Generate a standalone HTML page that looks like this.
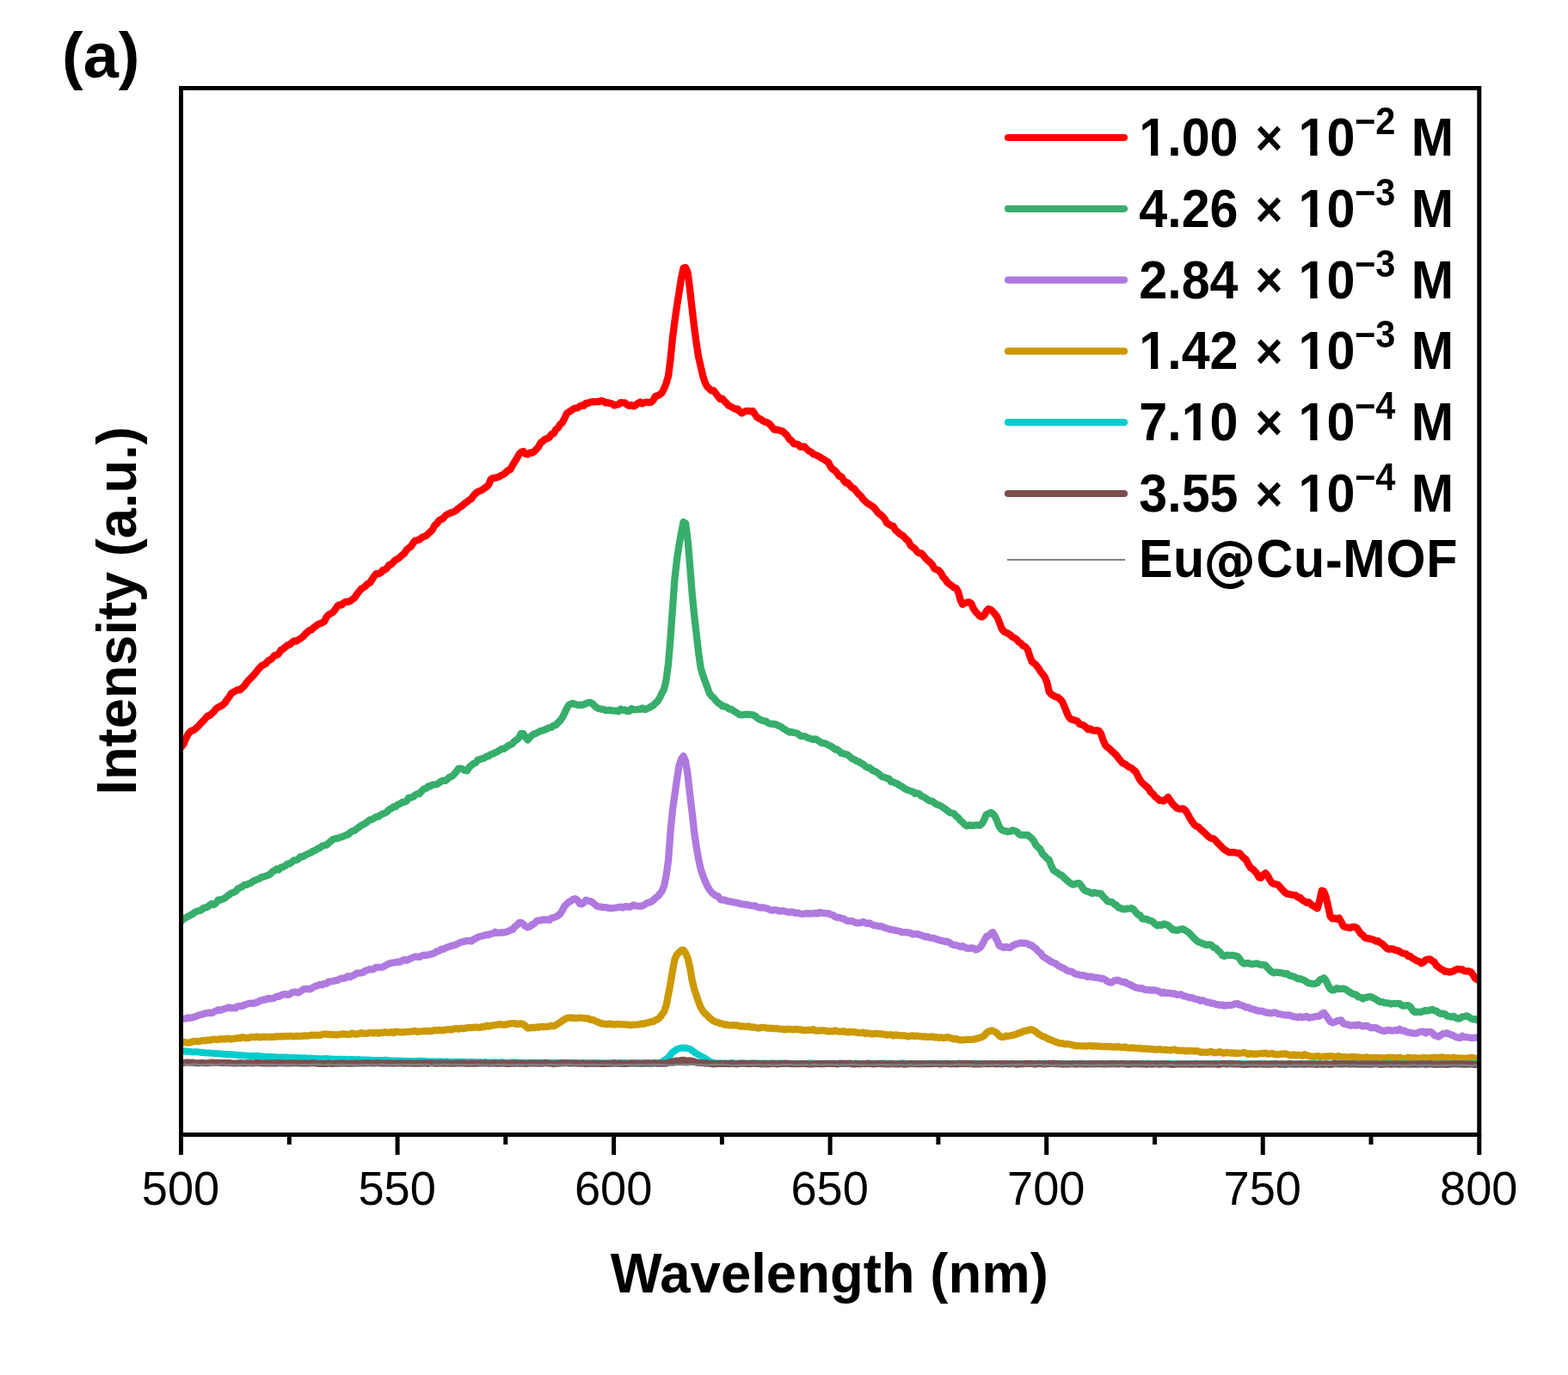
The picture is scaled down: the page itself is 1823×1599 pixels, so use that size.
<!DOCTYPE html>
<html><head><meta charset="utf-8"><title>Emission spectra</title>
<style>html,body{margin:0;padding:0;background:#fff;}svg{display:block;}</style>
</head><body>
<svg width="1823" height="1599" viewBox="0 0 1823 1599">
<rect width="100%" height="100%" fill="#fff"/>
<defs><clipPath id="pc"><rect x="210.5" y="102.5" width="1509.3" height="1217.0"/></clipPath></defs>
<g clip-path="url(#pc)" fill="none" stroke-linejoin="round" stroke-linecap="butt">
<path d="M208.5,868.8 L211.0,868.3 L213.5,865.2 L216.0,859.2 L218.6,853.9 L221.1,850.8 L223.6,849.6 L226.1,848.6 L228.6,846.2 L231.1,844.0 L233.7,840.9 L236.2,838.4 L238.7,835.6 L241.2,832.6 L243.7,832.2 L246.2,829.8 L248.7,827.5 L251.3,824.1 L253.8,822.5 L256.3,821.4 L258.8,819.7 L261.3,817.6 L263.8,813.9 L266.4,810.4 L268.9,806.4 L271.4,804.9 L273.9,803.5 L276.4,802.1 L278.9,802.4 L281.4,800.0 L284.0,797.8 L286.5,793.9 L289.0,791.1 L291.5,788.7 L294.0,785.9 L296.5,783.2 L299.1,779.9 L301.6,776.9 L304.1,774.4 L306.6,772.9 L309.1,771.7 L311.6,768.4 L314.2,767.2 L316.7,765.2 L319.2,762.2 L321.7,761.7 L324.2,760.0 L326.7,755.8 L329.2,754.7 L331.8,752.5 L334.3,750.3 L336.8,749.5 L339.3,747.4 L341.8,745.5 L344.3,745.7 L346.9,744.0 L349.4,742.5 L351.9,740.7 L354.4,737.9 L356.9,735.6 L359.4,733.1 L361.9,732.5 L364.5,730.0 L367.0,728.3 L369.5,726.3 L372.0,725.2 L374.5,724.3 L377.0,722.8 L379.6,717.5 L382.1,714.9 L384.6,713.5 L387.1,712.0 L389.6,708.9 L392.1,705.0 L394.6,703.3 L397.2,703.5 L399.7,701.1 L402.2,699.7 L404.7,700.0 L407.2,698.9 L409.7,697.0 L412.3,695.1 L414.8,691.2 L417.3,687.9 L419.8,685.1 L422.3,683.5 L424.8,681.7 L427.3,678.8 L429.9,677.9 L432.4,674.1 L434.9,670.3 L437.4,667.1 L439.9,667.2 L442.4,666.4 L445.0,663.1 L447.5,662.6 L450.0,660.6 L452.5,656.8 L455.0,656.2 L457.5,653.4 L460.0,651.2 L462.6,649.8 L465.1,647.9 L467.6,645.4 L470.1,643.4 L472.6,639.5 L475.1,637.4 L477.7,635.6 L480.2,631.8 L482.7,628.7 L485.2,628.3 L487.7,627.5 L490.2,625.3 L492.8,623.9 L495.3,623.1 L497.8,620.8 L500.3,618.5 L502.8,616.0 L505.3,611.0 L507.8,609.1 L510.4,605.3 L512.9,604.1 L515.4,602.6 L517.9,599.5 L520.4,598.0 L522.9,596.8 L525.5,596.0 L528.0,595.0 L530.5,593.5 L533.0,591.1 L535.5,589.4 L538.0,587.5 L540.5,585.2 L543.1,583.6 L545.6,581.6 L548.1,580.0 L550.6,576.3 L553.1,573.6 L555.6,571.8 L558.2,570.7 L560.7,569.7 L563.2,567.5 L565.7,566.3 L568.2,563.4 L570.7,557.2 L573.2,555.9 L575.8,555.8 L578.3,555.1 L580.8,554.1 L583.3,552.5 L585.8,551.5 L588.3,549.1 L590.9,546.8 L593.4,545.8 L595.9,541.0 L598.4,537.1 L600.9,532.9 L603.4,528.4 L605.9,525.8 L608.5,525.0 L611.0,527.9 L613.5,528.4 L616.0,526.5 L618.5,526.6 L621.0,525.1 L623.6,522.4 L626.1,519.7 L628.6,514.9 L631.1,513.1 L633.6,510.9 L636.1,510.0 L638.7,508.6 L641.2,504.8 L643.7,504.2 L646.2,499.5 L648.7,497.6 L651.2,493.5 L653.7,491.5 L656.3,486.6 L658.8,481.0 L661.3,479.1 L663.8,477.7 L666.3,475.8 L668.8,474.6 L671.4,474.4 L673.9,472.7 L676.4,471.3 L678.9,471.8 L681.4,468.6 L683.9,469.0 L686.4,467.5 L689.0,467.2 L691.5,467.3 L694.0,467.0 L696.5,467.2 L699.0,465.9 L701.5,466.7 L704.1,468.5 L706.6,468.2 L709.1,468.9 L711.6,469.5 L714.1,471.4 L716.6,470.7 L719.1,470.2 L721.7,468.1 L724.2,468.4 L726.7,468.4 L729.2,470.8 L731.7,471.8 L734.2,471.0 L736.8,472.5 L739.3,471.1 L741.8,468.9 L744.3,467.5 L746.8,469.3 L749.3,468.0 L751.8,467.7 L754.4,468.2 L756.9,467.7 L759.4,465.4 L761.9,460.9 L764.4,460.3 L766.9,459.0 L769.5,456.8 L772.0,452.3 L774.5,445.9 L777.0,437.4 L779.5,418.1 L782.0,392.7 L784.5,373.4 L787.1,355.2 L789.6,339.6 L792.1,323.1 L794.6,311.7 L797.1,311.1 L799.6,317.1 L802.2,337.4 L804.7,359.7 L807.2,380.8 L809.7,399.7 L812.2,415.3 L814.7,426.4 L817.3,437.5 L819.8,445.2 L822.3,449.8 L824.8,452.0 L827.3,454.4 L829.8,454.1 L832.3,457.6 L834.9,461.1 L837.4,464.1 L839.9,463.7 L842.4,466.6 L844.9,469.2 L847.4,471.8 L850.0,473.0 L852.5,474.5 L855.0,475.8 L857.5,475.5 L860.0,478.5 L862.5,480.5 L865.0,479.1 L867.6,477.8 L870.1,477.9 L872.6,478.4 L875.1,478.0 L877.6,481.5 L880.1,485.2 L882.7,486.8 L885.2,488.0 L887.7,489.9 L890.2,490.8 L892.7,491.6 L895.2,493.6 L897.7,496.8 L900.3,499.5 L902.8,499.6 L905.3,500.2 L907.8,501.0 L910.3,501.8 L912.8,504.2 L915.4,506.8 L917.9,511.0 L920.4,512.6 L922.9,516.1 L925.4,516.3 L927.9,516.9 L930.4,519.5 L933.0,519.4 L935.5,519.5 L938.0,522.2 L940.5,524.5 L943.0,525.7 L945.5,527.9 L948.1,529.0 L950.6,530.0 L953.1,531.2 L955.6,533.1 L958.1,534.4 L960.6,536.1 L963.1,537.6 L965.7,542.8 L968.2,545.7 L970.7,547.2 L973.2,550.2 L975.7,553.8 L978.2,554.1 L980.8,558.5 L983.3,561.5 L985.8,561.4 L988.3,564.7 L990.8,567.3 L993.3,568.4 L995.9,571.8 L998.4,574.8 L1000.9,576.8 L1003.4,580.3 L1005.9,583.0 L1008.4,585.3 L1010.9,586.6 L1013.5,588.3 L1016.0,590.1 L1018.5,593.2 L1021.0,596.5 L1023.5,598.4 L1026.0,600.3 L1028.6,603.5 L1031.1,608.3 L1033.6,609.7 L1036.1,611.3 L1038.6,611.9 L1041.1,616.4 L1043.6,618.6 L1046.2,621.1 L1048.7,622.2 L1051.2,624.4 L1053.7,627.3 L1056.2,629.3 L1058.7,634.4 L1061.3,636.3 L1063.8,638.1 L1066.3,641.6 L1068.8,643.3 L1071.3,643.3 L1073.8,646.4 L1076.3,649.5 L1078.9,651.9 L1081.4,654.0 L1083.9,656.7 L1086.4,661.2 L1088.9,662.4 L1091.4,663.3 L1094.0,666.3 L1096.5,671.1 L1099.0,673.7 L1101.5,677.3 L1104.0,679.3 L1106.5,680.9 L1109.0,683.3 L1111.6,684.0 L1114.1,688.3 L1116.6,697.8 L1119.1,702.8 L1121.6,701.3 L1124.1,700.7 L1126.7,700.3 L1129.2,701.6 L1131.7,707.7 L1134.2,711.3 L1136.7,713.9 L1139.2,716.8 L1141.8,717.4 L1144.3,715.5 L1146.8,710.8 L1149.3,708.3 L1151.8,709.0 L1154.3,711.2 L1156.8,714.0 L1159.4,717.5 L1161.9,723.6 L1164.4,730.7 L1166.9,734.2 L1169.4,735.5 L1171.9,736.6 L1174.5,738.2 L1177.0,740.7 L1179.5,741.8 L1182.0,743.6 L1184.5,746.7 L1187.0,748.1 L1189.5,751.0 L1192.1,752.0 L1194.6,755.2 L1197.1,762.5 L1199.6,769.2 L1202.1,771.2 L1204.6,773.4 L1207.2,776.8 L1209.7,780.8 L1212.2,783.9 L1214.7,787.4 L1217.2,793.4 L1219.7,804.3 L1222.2,807.4 L1224.8,809.0 L1227.3,810.3 L1229.8,810.9 L1232.3,813.0 L1234.8,815.6 L1237.3,821.0 L1239.9,827.7 L1242.4,833.4 L1244.9,836.3 L1247.4,837.0 L1249.9,837.8 L1252.4,838.5 L1254.9,841.9 L1257.5,842.7 L1260.0,843.6 L1262.5,845.7 L1265.0,848.2 L1267.5,847.5 L1270.0,849.2 L1272.6,849.7 L1275.1,849.4 L1277.6,849.8 L1280.1,853.5 L1282.6,860.8 L1285.1,866.5 L1287.6,869.0 L1290.2,870.9 L1292.7,873.5 L1295.2,875.6 L1297.7,878.2 L1300.2,881.3 L1302.7,884.5 L1305.3,887.4 L1307.8,888.3 L1310.3,890.3 L1312.8,892.1 L1315.3,892.9 L1317.8,895.4 L1320.4,897.4 L1322.9,902.3 L1325.4,907.0 L1327.9,910.2 L1330.4,912.5 L1332.9,914.7 L1335.4,916.8 L1338.0,921.3 L1340.5,923.1 L1343.0,926.5 L1345.5,928.3 L1348.0,930.8 L1350.5,930.8 L1353.1,931.5 L1355.6,929.3 L1358.1,927.0 L1360.6,930.7 L1363.1,934.7 L1365.6,937.1 L1368.1,939.7 L1370.7,940.5 L1373.2,940.7 L1375.7,940.4 L1378.2,942.4 L1380.7,946.2 L1383.2,951.1 L1385.8,955.2 L1388.3,958.6 L1390.8,960.7 L1393.3,961.6 L1395.8,964.5 L1398.3,966.4 L1400.8,968.8 L1403.4,971.4 L1405.9,973.4 L1408.4,975.0 L1410.9,975.3 L1413.4,977.6 L1415.9,980.6 L1418.5,983.1 L1421.0,985.6 L1423.5,988.0 L1426.0,989.4 L1428.5,991.2 L1431.0,991.3 L1433.5,991.2 L1436.1,991.4 L1438.6,992.2 L1441.1,992.1 L1443.6,995.3 L1446.1,997.8 L1448.6,999.5 L1451.2,1004.8 L1453.7,1008.8 L1456.2,1010.6 L1458.7,1013.0 L1461.2,1015.7 L1463.7,1020.4 L1466.2,1020.8 L1468.8,1017.3 L1471.3,1015.3 L1473.8,1018.3 L1476.3,1023.0 L1478.8,1026.8 L1481.3,1027.9 L1483.9,1028.3 L1486.4,1029.5 L1488.9,1032.4 L1491.4,1035.2 L1493.9,1037.8 L1496.4,1039.5 L1499.0,1039.8 L1501.5,1040.5 L1504.0,1040.9 L1506.5,1041.2 L1509.0,1043.5 L1511.5,1043.7 L1514.0,1046.7 L1516.6,1048.0 L1519.1,1049.7 L1521.6,1049.1 L1524.1,1051.7 L1526.6,1053.4 L1529.1,1054.8 L1531.7,1056.3 L1534.2,1047.5 L1536.7,1035.7 L1539.2,1036.7 L1541.7,1043.4 L1544.2,1054.4 L1546.7,1066.0 L1549.3,1068.4 L1551.8,1067.6 L1554.3,1068.9 L1556.8,1067.6 L1559.3,1071.8 L1561.8,1077.1 L1564.4,1078.1 L1566.9,1078.5 L1569.4,1079.1 L1571.9,1078.2 L1574.4,1077.8 L1576.9,1078.7 L1579.4,1081.7 L1582.0,1085.7 L1584.5,1087.4 L1587.0,1090.6 L1589.5,1091.4 L1592.0,1091.3 L1594.5,1092.3 L1597.1,1093.0 L1599.6,1094.6 L1602.1,1094.2 L1604.6,1096.3 L1607.1,1097.6 L1609.6,1100.1 L1612.1,1102.8 L1614.7,1103.8 L1617.2,1103.4 L1619.7,1103.7 L1622.2,1105.1 L1624.7,1105.2 L1627.2,1106.5 L1629.8,1108.2 L1632.3,1108.7 L1634.8,1109.2 L1637.3,1112.0 L1639.8,1112.2 L1642.3,1114.5 L1644.9,1115.7 L1647.4,1117.5 L1649.9,1117.9 L1652.4,1120.3 L1654.9,1119.1 L1657.4,1116.5 L1659.9,1115.6 L1662.5,1115.5 L1665.0,1117.2 L1667.5,1118.8 L1670.0,1122.7 L1672.5,1124.8 L1675.0,1126.7 L1677.6,1128.0 L1680.1,1129.9 L1682.6,1129.6 L1685.1,1130.5 L1687.6,1130.1 L1690.1,1129.1 L1692.6,1127.6 L1695.2,1126.8 L1697.7,1127.4 L1700.2,1127.5 L1702.7,1129.3 L1705.2,1129.3 L1707.7,1129.5 L1710.3,1130.4 L1712.8,1134.0 L1715.3,1138.0 L1717.8,1139.4 L1720.3,1140.3" stroke="#FF0000" stroke-width="8.3"/>
<path d="M208.5,1071.6 L211.0,1071.0 L213.5,1068.4 L216.0,1067.4 L218.6,1065.7 L221.1,1064.2 L223.6,1063.3 L226.1,1061.3 L228.6,1059.8 L231.1,1059.3 L233.7,1058.5 L236.2,1056.3 L238.7,1055.5 L241.2,1054.7 L243.7,1052.6 L246.2,1051.0 L248.7,1052.1 L251.3,1050.0 L253.8,1046.4 L256.3,1046.5 L258.8,1045.6 L261.3,1044.5 L263.8,1042.7 L266.4,1040.5 L268.9,1038.6 L271.4,1037.9 L273.9,1036.6 L276.4,1033.7 L278.9,1032.4 L281.4,1031.4 L284.0,1029.1 L286.5,1028.9 L289.0,1027.7 L291.5,1026.9 L294.0,1024.9 L296.5,1023.7 L299.1,1022.8 L301.6,1021.7 L304.1,1020.1 L306.6,1019.4 L309.1,1018.7 L311.6,1017.8 L314.2,1016.5 L316.7,1013.7 L319.2,1012.3 L321.7,1010.5 L324.2,1011.6 L326.7,1008.8 L329.2,1008.1 L331.8,1006.8 L334.3,1004.7 L336.8,1004.4 L339.3,1002.5 L341.8,1000.3 L344.3,1000.4 L346.9,999.1 L349.4,996.1 L351.9,996.4 L354.4,994.7 L356.9,993.5 L359.4,992.4 L361.9,991.4 L364.5,989.4 L367.0,988.7 L369.5,986.8 L372.0,986.0 L374.5,983.8 L377.0,983.2 L379.6,982.7 L382.1,980.2 L384.6,978.2 L387.1,976.2 L389.6,975.3 L392.1,974.9 L394.6,974.3 L397.2,973.2 L399.7,972.4 L402.2,971.1 L404.7,970.5 L407.2,968.0 L409.7,966.6 L412.3,965.9 L414.8,963.8 L417.3,961.9 L419.8,960.1 L422.3,958.7 L424.8,957.5 L427.3,955.5 L429.9,953.4 L432.4,953.1 L434.9,951.5 L437.4,949.9 L439.9,949.6 L442.4,947.7 L445.0,946.4 L447.5,945.6 L450.0,944.0 L452.5,941.2 L455.0,940.1 L457.5,938.2 L460.0,938.3 L462.6,935.5 L465.1,935.0 L467.6,932.8 L470.1,932.8 L472.6,931.6 L475.1,927.6 L477.7,927.6 L480.2,926.7 L482.7,924.6 L485.2,923.2 L487.7,923.1 L490.2,919.9 L492.8,917.5 L495.3,917.0 L497.8,914.3 L500.3,914.6 L502.8,912.6 L505.3,912.4 L507.8,912.2 L510.4,910.5 L512.9,908.6 L515.4,907.7 L517.9,908.0 L520.4,905.8 L522.9,903.4 L525.5,902.7 L528.0,900.4 L530.5,897.5 L533.0,893.8 L535.5,893.7 L538.0,894.4 L540.5,896.0 L543.1,896.4 L545.6,892.2 L548.1,890.0 L550.6,887.9 L553.1,887.1 L555.6,883.7 L558.2,883.0 L560.7,882.3 L563.2,881.5 L565.7,879.7 L568.2,879.3 L570.7,877.2 L573.2,876.6 L575.8,875.1 L578.3,874.2 L580.8,872.3 L583.3,870.9 L585.8,871.1 L588.3,869.1 L590.9,867.2 L593.4,866.2 L595.9,864.7 L598.4,861.7 L600.9,860.2 L603.4,857.7 L605.9,852.9 L608.5,853.1 L611.0,857.4 L613.5,860.5 L616.0,857.8 L618.5,855.0 L621.0,853.4 L623.6,852.7 L626.1,851.3 L628.6,850.1 L631.1,849.4 L633.6,848.5 L636.1,847.4 L638.7,846.2 L641.2,845.9 L643.7,843.7 L646.2,843.2 L648.7,840.3 L651.2,838.2 L653.7,834.6 L656.3,829.5 L658.8,824.1 L661.3,819.7 L663.8,818.6 L666.3,817.9 L668.8,819.1 L671.4,819.8 L673.9,819.7 L676.4,820.0 L678.9,819.3 L681.4,818.0 L683.9,817.1 L686.4,817.0 L689.0,818.4 L691.5,821.1 L694.0,823.1 L696.5,824.1 L699.0,824.8 L701.5,824.8 L704.1,826.1 L706.6,826.1 L709.1,825.7 L711.6,826.4 L714.1,826.6 L716.6,826.5 L719.1,827.2 L721.7,824.6 L724.2,825.9 L726.7,825.3 L729.2,827.2 L731.7,827.1 L734.2,824.0 L736.8,825.4 L739.3,825.3 L741.8,824.8 L744.3,824.8 L746.8,823.4 L749.3,825.2 L751.8,824.4 L754.4,823.1 L756.9,821.6 L759.4,820.4 L761.9,817.7 L764.4,815.7 L766.9,811.6 L769.5,806.2 L772.0,801.5 L774.5,791.0 L777.0,772.2 L779.5,742.4 L782.0,707.3 L784.5,672.7 L787.1,649.6 L789.6,633.4 L792.1,619.5 L794.6,607.0 L797.1,608.5 L799.6,627.9 L802.2,658.3 L804.7,690.5 L807.2,715.8 L809.7,737.5 L812.2,759.4 L814.7,776.7 L817.3,785.4 L819.8,792.5 L822.3,799.3 L824.8,806.2 L827.3,809.6 L829.8,811.6 L832.3,814.7 L834.9,817.4 L837.4,818.8 L839.9,821.3 L842.4,821.4 L844.9,822.3 L847.4,824.5 L850.0,824.6 L852.5,826.5 L855.0,828.0 L857.5,829.5 L860.0,831.2 L862.5,831.4 L865.0,831.0 L867.6,830.7 L870.1,831.0 L872.6,831.0 L875.1,831.3 L877.6,832.3 L880.1,834.6 L882.7,836.4 L885.2,837.5 L887.7,838.3 L890.2,838.6 L892.7,840.6 L895.2,841.6 L897.7,842.0 L900.3,842.0 L902.8,842.8 L905.3,844.1 L907.8,844.9 L910.3,847.0 L912.8,848.5 L915.4,850.0 L917.9,851.6 L920.4,851.2 L922.9,852.0 L925.4,852.3 L927.9,853.4 L930.4,855.6 L933.0,856.2 L935.5,856.1 L938.0,857.4 L940.5,858.6 L943.0,859.3 L945.5,860.0 L948.1,859.4 L950.6,860.9 L953.1,862.7 L955.6,864.1 L958.1,864.2 L960.6,864.9 L963.1,866.5 L965.7,867.6 L968.2,869.1 L970.7,871.5 L973.2,871.5 L975.7,873.5 L978.2,875.9 L980.8,876.4 L983.3,877.1 L985.8,878.0 L988.3,880.2 L990.8,882.3 L993.3,883.2 L995.9,885.0 L998.4,885.8 L1000.9,887.5 L1003.4,888.8 L1005.9,890.9 L1008.4,892.6 L1010.9,892.7 L1013.5,895.1 L1016.0,896.6 L1018.5,897.5 L1021.0,899.3 L1023.5,901.6 L1026.0,903.5 L1028.6,904.0 L1031.1,905.0 L1033.6,905.8 L1036.1,909.2 L1038.6,909.4 L1041.1,910.7 L1043.6,911.6 L1046.2,913.6 L1048.7,914.6 L1051.2,916.7 L1053.7,918.1 L1056.2,919.0 L1058.7,920.0 L1061.3,920.7 L1063.8,922.8 L1066.3,922.4 L1068.8,923.2 L1071.3,925.7 L1073.8,926.8 L1076.3,928.3 L1078.9,930.2 L1081.4,931.5 L1083.9,931.7 L1086.4,933.6 L1088.9,935.5 L1091.4,936.2 L1094.0,937.3 L1096.5,939.2 L1099.0,940.8 L1101.5,942.8 L1104.0,944.8 L1106.5,945.5 L1109.0,946.0 L1111.6,949.2 L1114.1,950.9 L1116.6,954.3 L1119.1,956.2 L1121.6,958.8 L1124.1,960.6 L1126.7,959.4 L1129.2,960.0 L1131.7,960.0 L1134.2,959.5 L1136.7,959.7 L1139.2,959.9 L1141.8,957.6 L1144.3,953.2 L1146.8,947.2 L1149.3,946.4 L1151.8,944.9 L1154.3,946.2 L1156.8,949.4 L1159.4,955.2 L1161.9,961.7 L1164.4,964.8 L1166.9,966.1 L1169.4,966.4 L1171.9,967.3 L1174.5,966.7 L1177.0,965.6 L1179.5,966.0 L1182.0,967.0 L1184.5,969.8 L1187.0,971.2 L1189.5,970.8 L1192.1,971.1 L1194.6,970.9 L1197.1,973.0 L1199.6,975.0 L1202.1,978.1 L1204.6,983.1 L1207.2,985.6 L1209.7,987.9 L1212.2,993.2 L1214.7,995.4 L1217.2,998.4 L1219.7,999.9 L1222.2,1006.8 L1224.8,1011.9 L1227.3,1013.8 L1229.8,1015.3 L1232.3,1017.2 L1234.8,1018.2 L1237.3,1021.0 L1239.9,1023.2 L1242.4,1025.6 L1244.9,1027.3 L1247.4,1028.7 L1249.9,1028.2 L1252.4,1027.2 L1254.9,1027.2 L1257.5,1030.5 L1260.0,1034.5 L1262.5,1036.0 L1265.0,1036.9 L1267.5,1037.9 L1270.0,1039.0 L1272.6,1037.8 L1275.1,1038.7 L1277.6,1038.8 L1280.1,1039.3 L1282.6,1042.8 L1285.1,1045.0 L1287.6,1048.1 L1290.2,1048.6 L1292.7,1048.9 L1295.2,1051.3 L1297.7,1052.3 L1300.2,1055.4 L1302.7,1056.1 L1305.3,1057.3 L1307.8,1057.4 L1310.3,1056.7 L1312.8,1056.6 L1315.3,1056.0 L1317.8,1057.4 L1320.4,1060.7 L1322.9,1063.5 L1325.4,1064.3 L1327.9,1068.3 L1330.4,1068.6 L1332.9,1068.6 L1335.4,1070.2 L1338.0,1070.8 L1340.5,1072.1 L1343.0,1074.5 L1345.5,1076.4 L1348.0,1075.4 L1350.5,1076.1 L1353.1,1074.3 L1355.6,1075.2 L1358.1,1076.2 L1360.6,1078.3 L1363.1,1081.1 L1365.6,1081.4 L1368.1,1081.9 L1370.7,1081.4 L1373.2,1080.5 L1375.7,1080.4 L1378.2,1082.0 L1380.7,1083.5 L1383.2,1085.6 L1385.8,1088.5 L1388.3,1091.1 L1390.8,1093.5 L1393.3,1095.3 L1395.8,1096.2 L1398.3,1097.3 L1400.8,1098.4 L1403.4,1098.9 L1405.9,1098.4 L1408.4,1099.1 L1410.9,1101.7 L1413.4,1102.4 L1415.9,1105.4 L1418.5,1107.3 L1421.0,1111.0 L1423.5,1111.9 L1426.0,1110.7 L1428.5,1110.8 L1431.0,1110.9 L1433.5,1110.9 L1436.1,1111.7 L1438.6,1112.1 L1441.1,1114.8 L1443.6,1118.6 L1446.1,1120.6 L1448.6,1120.4 L1451.2,1119.8 L1453.7,1121.1 L1456.2,1121.1 L1458.7,1120.8 L1461.2,1120.3 L1463.7,1121.3 L1466.2,1122.1 L1468.8,1122.0 L1471.3,1122.6 L1473.8,1125.6 L1476.3,1128.2 L1478.8,1130.3 L1481.3,1131.3 L1483.9,1130.6 L1486.4,1131.0 L1488.9,1131.1 L1491.4,1131.9 L1493.9,1132.5 L1496.4,1132.2 L1499.0,1134.4 L1501.5,1135.0 L1504.0,1135.6 L1506.5,1136.7 L1509.0,1138.3 L1511.5,1138.2 L1514.0,1139.2 L1516.6,1139.9 L1519.1,1141.9 L1521.6,1143.3 L1524.1,1143.7 L1526.6,1144.2 L1529.1,1144.1 L1531.7,1142.9 L1534.2,1139.7 L1536.7,1138.7 L1539.2,1137.2 L1541.7,1140.3 L1544.2,1145.9 L1546.7,1150.1 L1549.3,1151.6 L1551.8,1150.9 L1554.3,1149.1 L1556.8,1150.1 L1559.3,1149.9 L1561.8,1149.6 L1564.4,1150.4 L1566.9,1152.2 L1569.4,1153.8 L1571.9,1155.5 L1574.4,1156.2 L1576.9,1157.0 L1579.4,1159.5 L1582.0,1159.8 L1584.5,1161.5 L1587.0,1160.0 L1589.5,1159.8 L1592.0,1159.1 L1594.5,1159.3 L1597.1,1160.8 L1599.6,1162.0 L1602.1,1163.8 L1604.6,1165.1 L1607.1,1165.1 L1609.6,1166.1 L1612.1,1166.3 L1614.7,1166.6 L1617.2,1167.5 L1619.7,1167.0 L1622.2,1167.2 L1624.7,1167.1 L1627.2,1167.1 L1629.8,1169.2 L1632.3,1169.8 L1634.8,1169.3 L1637.3,1169.2 L1639.8,1170.7 L1642.3,1175.0 L1644.9,1177.0 L1647.4,1176.6 L1649.9,1176.9 L1652.4,1176.8 L1654.9,1176.0 L1657.4,1174.9 L1659.9,1175.5 L1662.5,1174.8 L1665.0,1173.8 L1667.5,1175.1 L1670.0,1175.7 L1672.5,1177.8 L1675.0,1179.0 L1677.6,1178.6 L1680.1,1179.2 L1682.6,1181.7 L1685.1,1181.9 L1687.6,1182.7 L1690.1,1181.8 L1692.6,1183.8 L1695.2,1184.6 L1697.7,1184.2 L1700.2,1182.4 L1702.7,1182.0 L1705.2,1181.4 L1707.7,1182.5 L1710.3,1184.4 L1712.8,1185.3 L1715.3,1185.0 L1717.8,1186.3 L1720.3,1185.8" stroke="#37AE6B" stroke-width="8.3"/>
<path d="M208.5,1185.1 L211.0,1184.9 L213.5,1184.6 L216.0,1184.5 L218.6,1183.4 L221.1,1183.9 L223.6,1183.3 L226.1,1182.6 L228.6,1181.6 L231.1,1180.5 L233.7,1180.0 L236.2,1179.2 L238.7,1178.4 L241.2,1178.2 L243.7,1177.6 L246.2,1178.2 L248.7,1176.8 L251.3,1175.5 L253.8,1174.4 L256.3,1174.8 L258.8,1174.0 L261.3,1173.0 L263.8,1172.3 L266.4,1171.5 L268.9,1172.4 L271.4,1171.9 L273.9,1172.4 L276.4,1170.3 L278.9,1169.9 L281.4,1170.0 L284.0,1168.6 L286.5,1168.0 L289.0,1167.0 L291.5,1166.6 L294.0,1167.0 L296.5,1166.2 L299.1,1165.7 L301.6,1164.0 L304.1,1163.4 L306.6,1162.5 L309.1,1162.6 L311.6,1160.9 L314.2,1161.4 L316.7,1161.1 L319.2,1160.4 L321.7,1158.7 L324.2,1159.0 L326.7,1157.3 L329.2,1156.6 L331.8,1156.1 L334.3,1156.9 L336.8,1156.2 L339.3,1154.3 L341.8,1153.7 L344.3,1153.7 L346.9,1154.4 L349.4,1152.7 L351.9,1151.0 L354.4,1149.8 L356.9,1150.0 L359.4,1150.4 L361.9,1149.8 L364.5,1147.8 L367.0,1146.8 L369.5,1146.0 L372.0,1144.9 L374.5,1145.4 L377.0,1143.8 L379.6,1143.8 L382.1,1141.6 L384.6,1141.3 L387.1,1141.2 L389.6,1140.1 L392.1,1140.1 L394.6,1138.7 L397.2,1137.6 L399.7,1137.8 L402.2,1136.8 L404.7,1135.1 L407.2,1136.2 L409.7,1134.7 L412.3,1133.7 L414.8,1131.7 L417.3,1131.6 L419.8,1131.3 L422.3,1130.9 L424.8,1128.8 L427.3,1128.2 L429.9,1127.1 L432.4,1127.4 L434.9,1126.7 L437.4,1124.9 L439.9,1124.9 L442.4,1124.9 L445.0,1124.6 L447.5,1123.2 L450.0,1121.7 L452.5,1120.5 L455.0,1119.9 L457.5,1119.5 L460.0,1119.2 L462.6,1118.6 L465.1,1118.7 L467.6,1117.0 L470.1,1116.0 L472.6,1116.8 L475.1,1115.8 L477.7,1114.6 L480.2,1113.5 L482.7,1112.5 L485.2,1112.7 L487.7,1113.0 L490.2,1111.4 L492.8,1110.7 L495.3,1111.0 L497.8,1110.4 L500.3,1109.8 L502.8,1109.1 L505.3,1108.3 L507.8,1106.3 L510.4,1106.0 L512.9,1104.0 L515.4,1103.8 L517.9,1102.4 L520.4,1101.5 L522.9,1100.8 L525.5,1099.6 L528.0,1099.4 L530.5,1098.4 L533.0,1097.1 L535.5,1095.9 L538.0,1095.1 L540.5,1094.6 L543.1,1094.1 L545.6,1093.9 L548.1,1094.5 L550.6,1092.4 L553.1,1091.4 L555.6,1089.7 L558.2,1089.0 L560.7,1088.5 L563.2,1087.8 L565.7,1086.8 L568.2,1087.3 L570.7,1085.8 L573.2,1085.7 L575.8,1083.8 L578.3,1084.8 L580.8,1084.7 L583.3,1084.5 L585.8,1084.4 L588.3,1083.8 L590.9,1083.0 L593.4,1081.5 L595.9,1081.1 L598.4,1077.9 L600.9,1076.0 L603.4,1073.2 L605.9,1072.9 L608.5,1074.8 L611.0,1077.2 L613.5,1078.5 L616.0,1077.4 L618.5,1075.4 L621.0,1074.3 L623.6,1071.4 L626.1,1070.3 L628.6,1070.3 L631.1,1069.5 L633.6,1069.3 L636.1,1069.5 L638.7,1070.0 L641.2,1067.5 L643.7,1067.1 L646.2,1066.2 L648.7,1064.8 L651.2,1062.7 L653.7,1059.2 L656.3,1053.9 L658.8,1051.3 L661.3,1049.0 L663.8,1047.8 L666.3,1045.8 L668.8,1045.2 L671.4,1046.8 L673.9,1050.7 L676.4,1051.4 L678.9,1049.6 L681.4,1046.8 L683.9,1047.5 L686.4,1048.1 L689.0,1049.5 L691.5,1051.7 L694.0,1053.9 L696.5,1054.4 L699.0,1054.6 L701.5,1055.2 L704.1,1055.1 L706.6,1055.8 L709.1,1056.0 L711.6,1056.3 L714.1,1055.8 L716.6,1055.5 L719.1,1055.0 L721.7,1054.6 L724.2,1055.5 L726.7,1054.2 L729.2,1054.2 L731.7,1054.9 L734.2,1053.9 L736.8,1052.4 L739.3,1053.6 L741.8,1053.7 L744.3,1054.0 L746.8,1053.4 L749.3,1052.3 L751.8,1050.4 L754.4,1049.5 L756.9,1048.7 L759.4,1047.0 L761.9,1044.4 L764.4,1042.6 L766.9,1039.9 L769.5,1036.4 L772.0,1030.7 L774.5,1018.7 L777.0,1001.2 L779.5,967.1 L782.0,942.0 L784.5,923.9 L787.1,905.9 L789.6,890.0 L792.1,882.8 L794.6,879.2 L797.1,885.4 L799.6,901.0 L802.2,924.3 L804.7,945.3 L807.2,968.1 L809.7,985.1 L812.2,999.2 L814.7,1010.8 L817.3,1018.4 L819.8,1024.8 L822.3,1030.3 L824.8,1034.5 L827.3,1037.7 L829.8,1039.9 L832.3,1041.7 L834.9,1042.3 L837.4,1046.0 L839.9,1046.7 L842.4,1046.5 L844.9,1047.6 L847.4,1048.2 L850.0,1048.7 L852.5,1049.1 L855.0,1049.6 L857.5,1049.9 L860.0,1050.9 L862.5,1051.3 L865.0,1051.8 L867.6,1051.7 L870.1,1052.6 L872.6,1053.0 L875.1,1053.5 L877.6,1053.2 L880.1,1054.6 L882.7,1055.4 L885.2,1055.5 L887.7,1055.5 L890.2,1056.0 L892.7,1056.8 L895.2,1058.0 L897.7,1058.7 L900.3,1058.1 L902.8,1058.4 L905.3,1059.3 L907.8,1059.5 L910.3,1059.2 L912.8,1059.8 L915.4,1060.6 L917.9,1061.0 L920.4,1060.4 L922.9,1061.0 L925.4,1061.9 L927.9,1061.5 L930.4,1062.5 L933.0,1062.8 L935.5,1062.5 L938.0,1062.1 L940.5,1062.5 L943.0,1062.3 L945.5,1062.4 L948.1,1061.9 L950.6,1062.4 L953.1,1060.9 L955.6,1061.7 L958.1,1061.8 L960.6,1062.3 L963.1,1062.1 L965.7,1063.5 L968.2,1064.0 L970.7,1065.9 L973.2,1067.1 L975.7,1066.9 L978.2,1068.0 L980.8,1068.4 L983.3,1070.3 L985.8,1071.1 L988.3,1071.0 L990.8,1071.1 L993.3,1072.5 L995.9,1073.2 L998.4,1073.4 L1000.9,1073.1 L1003.4,1071.9 L1005.9,1073.1 L1008.4,1074.1 L1010.9,1073.3 L1013.5,1075.2 L1016.0,1076.1 L1018.5,1076.3 L1021.0,1077.2 L1023.5,1077.1 L1026.0,1077.6 L1028.6,1079.0 L1031.1,1079.6 L1033.6,1080.4 L1036.1,1081.2 L1038.6,1081.3 L1041.1,1082.0 L1043.6,1082.5 L1046.2,1083.0 L1048.7,1084.3 L1051.2,1084.0 L1053.7,1084.3 L1056.2,1084.5 L1058.7,1085.1 L1061.3,1086.5 L1063.8,1086.2 L1066.3,1086.1 L1068.8,1087.0 L1071.3,1087.8 L1073.8,1088.5 L1076.3,1089.6 L1078.9,1089.2 L1081.4,1090.7 L1083.9,1091.0 L1086.4,1091.1 L1088.9,1092.4 L1091.4,1093.0 L1094.0,1093.9 L1096.5,1094.2 L1099.0,1095.0 L1101.5,1094.8 L1104.0,1096.2 L1106.5,1098.1 L1109.0,1099.0 L1111.6,1099.1 L1114.1,1099.9 L1116.6,1101.1 L1119.1,1100.1 L1121.6,1101.5 L1124.1,1102.8 L1126.7,1102.9 L1129.2,1102.3 L1131.7,1102.6 L1134.2,1104.5 L1136.7,1103.7 L1139.2,1102.2 L1141.8,1098.7 L1144.3,1093.8 L1146.8,1089.1 L1149.3,1088.4 L1151.8,1085.7 L1154.3,1084.1 L1156.8,1089.0 L1159.4,1094.0 L1161.9,1099.9 L1164.4,1100.8 L1166.9,1102.1 L1169.4,1101.1 L1171.9,1101.8 L1174.5,1102.0 L1177.0,1100.0 L1179.5,1098.7 L1182.0,1097.7 L1184.5,1097.1 L1187.0,1096.4 L1189.5,1096.9 L1192.1,1096.8 L1194.6,1097.3 L1197.1,1099.0 L1199.6,1099.4 L1202.1,1101.7 L1204.6,1103.3 L1207.2,1106.6 L1209.7,1108.2 L1212.2,1111.8 L1214.7,1113.6 L1217.2,1115.2 L1219.7,1116.8 L1222.2,1118.5 L1224.8,1119.6 L1227.3,1120.4 L1229.8,1122.7 L1232.3,1124.1 L1234.8,1125.3 L1237.3,1126.3 L1239.9,1128.1 L1242.4,1129.4 L1244.9,1129.7 L1247.4,1130.7 L1249.9,1132.5 L1252.4,1133.1 L1254.9,1133.8 L1257.5,1134.4 L1260.0,1134.2 L1262.5,1135.1 L1265.0,1136.0 L1267.5,1135.5 L1270.0,1136.1 L1272.6,1136.7 L1275.1,1136.9 L1277.6,1137.1 L1280.1,1138.0 L1282.6,1138.0 L1285.1,1139.5 L1287.6,1141.2 L1290.2,1142.4 L1292.7,1142.5 L1295.2,1140.7 L1297.7,1139.9 L1300.2,1140.0 L1302.7,1141.1 L1305.3,1142.0 L1307.8,1141.8 L1310.3,1143.8 L1312.8,1144.5 L1315.3,1145.8 L1317.8,1147.2 L1320.4,1148.4 L1322.9,1148.9 L1325.4,1149.6 L1327.9,1149.2 L1330.4,1150.7 L1332.9,1151.1 L1335.4,1151.1 L1338.0,1151.6 L1340.5,1151.4 L1343.0,1151.6 L1345.5,1152.3 L1348.0,1153.1 L1350.5,1154.9 L1353.1,1153.7 L1355.6,1155.0 L1358.1,1154.6 L1360.6,1155.2 L1363.1,1155.6 L1365.6,1155.5 L1368.1,1156.8 L1370.7,1156.7 L1373.2,1156.4 L1375.7,1158.1 L1378.2,1158.6 L1380.7,1159.3 L1383.2,1160.3 L1385.8,1160.0 L1388.3,1161.4 L1390.8,1162.1 L1393.3,1162.3 L1395.8,1163.9 L1398.3,1163.2 L1400.8,1164.3 L1403.4,1165.7 L1405.9,1165.6 L1408.4,1166.6 L1410.9,1166.6 L1413.4,1168.0 L1415.9,1168.1 L1418.5,1169.0 L1421.0,1168.5 L1423.5,1169.6 L1426.0,1169.2 L1428.5,1169.1 L1431.0,1168.8 L1433.5,1168.5 L1436.1,1167.3 L1438.6,1167.0 L1441.1,1168.7 L1443.6,1169.0 L1446.1,1170.3 L1448.6,1171.5 L1451.2,1171.4 L1453.7,1172.9 L1456.2,1173.5 L1458.7,1174.1 L1461.2,1175.3 L1463.7,1175.5 L1466.2,1175.6 L1468.8,1176.3 L1471.3,1177.5 L1473.8,1177.3 L1476.3,1178.3 L1478.8,1178.2 L1481.3,1177.3 L1483.9,1178.1 L1486.4,1179.0 L1488.9,1179.5 L1491.4,1180.0 L1493.9,1180.3 L1496.4,1180.7 L1499.0,1180.5 L1501.5,1181.4 L1504.0,1182.4 L1506.5,1182.5 L1509.0,1183.3 L1511.5,1182.2 L1514.0,1183.3 L1516.6,1182.6 L1519.1,1182.0 L1521.6,1183.6 L1524.1,1183.2 L1526.6,1182.9 L1529.1,1182.1 L1531.7,1181.9 L1534.2,1181.6 L1536.7,1179.0 L1539.2,1177.8 L1541.7,1181.1 L1544.2,1184.4 L1546.7,1188.1 L1549.3,1189.4 L1551.8,1188.6 L1554.3,1187.4 L1556.8,1186.9 L1559.3,1186.4 L1561.8,1190.4 L1564.4,1191.0 L1566.9,1191.3 L1569.4,1192.6 L1571.9,1192.5 L1574.4,1192.0 L1576.9,1192.7 L1579.4,1191.5 L1582.0,1192.5 L1584.5,1193.6 L1587.0,1192.9 L1589.5,1193.0 L1592.0,1194.6 L1594.5,1195.3 L1597.1,1195.2 L1599.6,1195.1 L1602.1,1196.6 L1604.6,1197.7 L1607.1,1198.5 L1609.6,1199.1 L1612.1,1198.0 L1614.7,1197.9 L1617.2,1198.4 L1619.7,1198.7 L1622.2,1197.9 L1624.7,1198.5 L1627.2,1196.8 L1629.8,1198.6 L1632.3,1198.4 L1634.8,1199.9 L1637.3,1200.7 L1639.8,1200.6 L1642.3,1201.6 L1644.9,1201.7 L1647.4,1201.5 L1649.9,1200.3 L1652.4,1199.8 L1654.9,1199.6 L1657.4,1201.4 L1659.9,1199.8 L1662.5,1199.9 L1665.0,1200.9 L1667.5,1204.0 L1670.0,1204.7 L1672.5,1205.7 L1675.0,1203.9 L1677.6,1202.2 L1680.1,1201.9 L1682.6,1201.4 L1685.1,1202.6 L1687.6,1203.5 L1690.1,1204.4 L1692.6,1206.0 L1695.2,1206.7 L1697.7,1207.0 L1700.2,1204.7 L1702.7,1206.2 L1705.2,1206.1 L1707.7,1206.5 L1710.3,1207.0 L1712.8,1206.9 L1715.3,1206.6 L1717.8,1206.6 L1720.3,1207.3" stroke="#B079DF" stroke-width="8.3"/>
<path d="M208.5,1212.7 L211.0,1212.5 L213.5,1211.9 L216.0,1212.4 L218.6,1212.6 L221.1,1212.3 L223.6,1211.3 L226.1,1210.9 L228.6,1210.9 L231.1,1211.1 L233.7,1210.5 L236.2,1210.0 L238.7,1210.1 L241.2,1209.7 L243.7,1209.7 L246.2,1209.0 L248.7,1208.5 L251.3,1209.0 L253.8,1208.9 L256.3,1208.1 L258.8,1208.4 L261.3,1208.4 L263.8,1207.8 L266.4,1207.7 L268.9,1208.5 L271.4,1207.9 L273.9,1207.6 L276.4,1207.0 L278.9,1207.5 L281.4,1206.2 L284.0,1206.7 L286.5,1207.1 L289.0,1207.0 L291.5,1206.0 L294.0,1206.1 L296.5,1206.1 L299.1,1205.5 L301.6,1206.3 L304.1,1206.1 L306.6,1205.7 L309.1,1206.0 L311.6,1206.0 L314.2,1205.7 L316.7,1205.8 L319.2,1205.9 L321.7,1205.2 L324.2,1205.3 L326.7,1205.1 L329.2,1205.4 L331.8,1204.9 L334.3,1205.1 L336.8,1204.9 L339.3,1204.9 L341.8,1205.3 L344.3,1204.7 L346.9,1205.1 L349.4,1204.9 L351.9,1204.8 L354.4,1204.3 L356.9,1204.6 L359.4,1204.3 L361.9,1203.7 L364.5,1203.9 L367.0,1203.7 L369.5,1203.8 L372.0,1204.0 L374.5,1203.0 L377.0,1202.6 L379.6,1202.6 L382.1,1203.0 L384.6,1202.9 L387.1,1203.1 L389.6,1203.3 L392.1,1203.5 L394.6,1202.9 L397.2,1202.7 L399.7,1202.3 L402.2,1202.8 L404.7,1203.0 L407.2,1202.6 L409.7,1201.5 L412.3,1202.6 L414.8,1202.7 L417.3,1202.0 L419.8,1201.2 L422.3,1201.6 L424.8,1201.9 L427.3,1201.6 L429.9,1201.0 L432.4,1201.1 L434.9,1201.5 L437.4,1200.8 L439.9,1201.6 L442.4,1201.0 L445.0,1200.9 L447.5,1200.2 L450.0,1200.6 L452.5,1200.8 L455.0,1200.2 L457.5,1201.1 L460.0,1199.7 L462.6,1199.9 L465.1,1200.3 L467.6,1200.4 L470.1,1200.3 L472.6,1199.8 L475.1,1199.8 L477.7,1199.7 L480.2,1199.2 L482.7,1198.7 L485.2,1199.9 L487.7,1199.5 L490.2,1199.3 L492.8,1199.0 L495.3,1199.2 L497.8,1199.0 L500.3,1198.9 L502.8,1199.0 L505.3,1197.9 L507.8,1198.4 L510.4,1197.8 L512.9,1198.1 L515.4,1198.4 L517.9,1197.3 L520.4,1197.4 L522.9,1197.2 L525.5,1197.3 L528.0,1196.3 L530.5,1196.0 L533.0,1196.6 L535.5,1196.0 L538.0,1195.9 L540.5,1196.0 L543.1,1195.1 L545.6,1195.1 L548.1,1195.1 L550.6,1194.9 L553.1,1194.5 L555.6,1195.0 L558.2,1194.9 L560.7,1193.9 L563.2,1194.1 L565.7,1192.6 L568.2,1193.5 L570.7,1192.6 L573.2,1192.5 L575.8,1192.0 L578.3,1191.6 L580.8,1191.2 L583.3,1191.4 L585.8,1191.8 L588.3,1191.4 L590.9,1190.7 L593.4,1190.4 L595.9,1190.2 L598.4,1190.2 L600.9,1191.1 L603.4,1190.6 L605.9,1190.3 L608.5,1191.2 L611.0,1193.3 L613.5,1195.6 L616.0,1195.3 L618.5,1194.8 L621.0,1195.2 L623.6,1194.4 L626.1,1194.8 L628.6,1194.0 L631.1,1194.0 L633.6,1194.1 L636.1,1193.8 L638.7,1193.6 L641.2,1192.7 L643.7,1193.2 L646.2,1192.1 L648.7,1190.4 L651.2,1189.0 L653.7,1187.0 L656.3,1185.6 L658.8,1184.0 L661.3,1183.6 L663.8,1183.4 L666.3,1183.8 L668.8,1183.8 L671.4,1183.8 L673.9,1183.5 L676.4,1183.8 L678.9,1184.1 L681.4,1184.4 L683.9,1184.4 L686.4,1185.9 L689.0,1185.8 L691.5,1187.0 L694.0,1188.1 L696.5,1189.0 L699.0,1190.4 L701.5,1190.4 L704.1,1191.2 L706.6,1191.0 L709.1,1190.6 L711.6,1191.2 L714.1,1191.5 L716.6,1191.0 L719.1,1191.2 L721.7,1191.1 L724.2,1191.3 L726.7,1191.3 L729.2,1191.6 L731.7,1192.0 L734.2,1192.0 L736.8,1191.6 L739.3,1191.6 L741.8,1191.6 L744.3,1190.9 L746.8,1190.4 L749.3,1190.6 L751.8,1189.4 L754.4,1189.3 L756.9,1188.1 L759.4,1188.1 L761.9,1186.3 L764.4,1185.7 L766.9,1183.5 L769.5,1179.8 L772.0,1176.6 L774.5,1169.7 L777.0,1156.8 L779.5,1143.9 L782.0,1128.7 L784.5,1115.6 L787.1,1110.1 L789.6,1107.5 L792.1,1105.2 L794.6,1104.8 L797.1,1108.5 L799.6,1114.2 L802.2,1125.5 L804.7,1139.9 L807.2,1150.2 L809.7,1157.8 L812.2,1165.2 L814.7,1171.6 L817.3,1175.8 L819.8,1178.8 L822.3,1180.9 L824.8,1183.6 L827.3,1185.5 L829.8,1187.3 L832.3,1188.3 L834.9,1189.2 L837.4,1190.2 L839.9,1190.5 L842.4,1191.6 L844.9,1191.4 L847.4,1192.2 L850.0,1192.5 L852.5,1192.2 L855.0,1192.4 L857.5,1192.5 L860.0,1193.4 L862.5,1193.5 L865.0,1193.7 L867.6,1194.0 L870.1,1193.4 L872.6,1194.4 L875.1,1194.5 L877.6,1194.7 L880.1,1195.3 L882.7,1195.6 L885.2,1194.9 L887.7,1194.9 L890.2,1195.2 L892.7,1195.7 L895.2,1195.9 L897.7,1195.7 L900.3,1196.3 L902.8,1195.8 L905.3,1196.6 L907.8,1196.6 L910.3,1196.9 L912.8,1197.4 L915.4,1196.6 L917.9,1196.8 L920.4,1197.2 L922.9,1197.3 L925.4,1196.7 L927.9,1197.3 L930.4,1197.2 L933.0,1197.9 L935.5,1198.2 L938.0,1197.8 L940.5,1197.9 L943.0,1197.8 L945.5,1197.1 L948.1,1198.6 L950.6,1198.6 L953.1,1198.5 L955.6,1198.4 L958.1,1198.4 L960.6,1198.9 L963.1,1199.4 L965.7,1199.2 L968.2,1199.5 L970.7,1198.3 L973.2,1199.3 L975.7,1199.7 L978.2,1199.6 L980.8,1199.2 L983.3,1199.9 L985.8,1200.5 L988.3,1199.7 L990.8,1200.0 L993.3,1200.1 L995.9,1200.6 L998.4,1201.2 L1000.9,1201.1 L1003.4,1200.7 L1005.9,1202.0 L1008.4,1201.4 L1010.9,1201.8 L1013.5,1202.6 L1016.0,1202.0 L1018.5,1201.8 L1021.0,1202.2 L1023.5,1202.3 L1026.0,1202.5 L1028.6,1203.0 L1031.1,1203.6 L1033.6,1203.4 L1036.1,1203.3 L1038.6,1204.6 L1041.1,1203.4 L1043.6,1204.0 L1046.2,1204.2 L1048.7,1204.5 L1051.2,1204.2 L1053.7,1204.8 L1056.2,1205.4 L1058.7,1204.6 L1061.3,1204.4 L1063.8,1205.0 L1066.3,1204.7 L1068.8,1205.0 L1071.3,1205.4 L1073.8,1205.5 L1076.3,1205.5 L1078.9,1206.0 L1081.4,1205.6 L1083.9,1205.5 L1086.4,1206.4 L1088.9,1206.2 L1091.4,1206.8 L1094.0,1206.4 L1096.5,1207.0 L1099.0,1206.8 L1101.5,1206.0 L1104.0,1206.7 L1106.5,1207.4 L1109.0,1208.4 L1111.6,1207.8 L1114.1,1209.2 L1116.6,1209.4 L1119.1,1209.3 L1121.6,1209.3 L1124.1,1208.8 L1126.7,1208.9 L1129.2,1208.8 L1131.7,1208.6 L1134.2,1208.2 L1136.7,1207.4 L1139.2,1206.7 L1141.8,1206.0 L1144.3,1204.3 L1146.8,1201.4 L1149.3,1199.6 L1151.8,1198.6 L1154.3,1198.6 L1156.8,1200.0 L1159.4,1201.6 L1161.9,1204.7 L1164.4,1205.9 L1166.9,1205.9 L1169.4,1204.7 L1171.9,1204.9 L1174.5,1204.5 L1177.0,1203.9 L1179.5,1203.4 L1182.0,1202.5 L1184.5,1201.2 L1187.0,1200.8 L1189.5,1199.5 L1192.1,1198.6 L1194.6,1198.6 L1197.1,1197.3 L1199.6,1197.4 L1202.1,1198.5 L1204.6,1200.0 L1207.2,1202.3 L1209.7,1203.7 L1212.2,1205.2 L1214.7,1206.0 L1217.2,1207.1 L1219.7,1208.8 L1222.2,1209.4 L1224.8,1210.6 L1227.3,1211.6 L1229.8,1212.5 L1232.3,1213.3 L1234.8,1213.2 L1237.3,1214.1 L1239.9,1214.2 L1242.4,1214.2 L1244.9,1214.7 L1247.4,1215.4 L1249.9,1216.0 L1252.4,1216.2 L1254.9,1216.4 L1257.5,1216.3 L1260.0,1216.4 L1262.5,1216.7 L1265.0,1216.2 L1267.5,1216.2 L1270.0,1216.6 L1272.6,1216.3 L1275.1,1216.7 L1277.6,1216.7 L1280.1,1216.9 L1282.6,1217.1 L1285.1,1217.0 L1287.6,1217.1 L1290.2,1216.9 L1292.7,1217.6 L1295.2,1217.4 L1297.7,1217.7 L1300.2,1216.8 L1302.7,1217.8 L1305.3,1218.1 L1307.8,1217.4 L1310.3,1218.4 L1312.8,1218.7 L1315.3,1218.7 L1317.8,1218.4 L1320.4,1219.1 L1322.9,1219.1 L1325.4,1219.0 L1327.9,1219.7 L1330.4,1219.5 L1332.9,1219.6 L1335.4,1219.7 L1338.0,1220.2 L1340.5,1220.2 L1343.0,1220.7 L1345.5,1220.4 L1348.0,1220.2 L1350.5,1220.6 L1353.1,1221.0 L1355.6,1220.7 L1358.1,1221.2 L1360.6,1221.3 L1363.1,1220.9 L1365.6,1220.5 L1368.1,1221.5 L1370.7,1221.7 L1373.2,1221.7 L1375.7,1221.7 L1378.2,1222.4 L1380.7,1222.0 L1383.2,1221.9 L1385.8,1222.1 L1388.3,1222.5 L1390.8,1222.1 L1393.3,1222.5 L1395.8,1223.8 L1398.3,1223.6 L1400.8,1223.6 L1403.4,1223.8 L1405.9,1223.4 L1408.4,1222.9 L1410.9,1224.1 L1413.4,1224.2 L1415.9,1223.7 L1418.5,1223.2 L1421.0,1224.5 L1423.5,1224.5 L1426.0,1223.9 L1428.5,1224.3 L1431.0,1224.5 L1433.5,1224.4 L1436.1,1224.8 L1438.6,1224.6 L1441.1,1224.8 L1443.6,1224.5 L1446.1,1224.0 L1448.6,1224.7 L1451.2,1226.1 L1453.7,1225.1 L1456.2,1225.6 L1458.7,1225.6 L1461.2,1225.8 L1463.7,1225.3 L1466.2,1225.0 L1468.8,1225.1 L1471.3,1224.7 L1473.8,1225.5 L1476.3,1225.7 L1478.8,1224.8 L1481.3,1225.9 L1483.9,1226.3 L1486.4,1226.4 L1488.9,1225.6 L1491.4,1225.7 L1493.9,1225.4 L1496.4,1226.0 L1499.0,1226.9 L1501.5,1227.3 L1504.0,1226.4 L1506.5,1227.4 L1509.0,1227.0 L1511.5,1227.1 L1514.0,1227.8 L1516.6,1226.3 L1519.1,1227.4 L1521.6,1227.8 L1524.1,1228.6 L1526.6,1228.7 L1529.1,1228.8 L1531.7,1228.1 L1534.2,1228.6 L1536.7,1228.8 L1539.2,1228.6 L1541.7,1228.5 L1544.2,1228.4 L1546.7,1228.3 L1549.3,1228.4 L1551.8,1229.5 L1554.3,1228.5 L1556.8,1228.2 L1559.3,1229.1 L1561.8,1229.1 L1564.4,1229.4 L1566.9,1229.9 L1569.4,1229.2 L1571.9,1229.1 L1574.4,1229.1 L1576.9,1229.4 L1579.4,1229.3 L1582.0,1229.9 L1584.5,1230.8 L1587.0,1229.6 L1589.5,1229.4 L1592.0,1230.5 L1594.5,1230.1 L1597.1,1230.1 L1599.6,1230.1 L1602.1,1230.1 L1604.6,1230.2 L1607.1,1230.5 L1609.6,1230.4 L1612.1,1230.3 L1614.7,1229.7 L1617.2,1229.8 L1619.7,1229.8 L1622.2,1230.4 L1624.7,1230.3 L1627.2,1229.9 L1629.8,1230.5 L1632.3,1231.2 L1634.8,1230.5 L1637.3,1229.7 L1639.8,1230.2 L1642.3,1230.4 L1644.9,1230.2 L1647.4,1230.5 L1649.9,1230.7 L1652.4,1230.3 L1654.9,1229.9 L1657.4,1230.5 L1659.9,1230.3 L1662.5,1230.3 L1665.0,1230.0 L1667.5,1229.7 L1670.0,1229.9 L1672.5,1230.1 L1675.0,1229.7 L1677.6,1229.5 L1680.1,1230.8 L1682.6,1230.0 L1685.1,1230.3 L1687.6,1230.5 L1690.1,1229.7 L1692.6,1231.0 L1695.2,1230.3 L1697.7,1230.8 L1700.2,1230.5 L1702.7,1230.8 L1705.2,1230.7 L1707.7,1230.5 L1710.3,1229.9 L1712.8,1230.2 L1715.3,1230.9 L1717.8,1231.3 L1720.3,1230.6" stroke="#CC9900" stroke-width="8.3"/>
<path d="M208.5,1221.8 L211.0,1221.9 L213.5,1222.2 L216.0,1222.5 L218.6,1223.0 L221.1,1222.9 L223.6,1223.4 L226.1,1223.3 L228.6,1223.2 L231.1,1223.4 L233.7,1223.9 L236.2,1223.8 L238.7,1224.4 L241.2,1224.6 L243.7,1224.6 L246.2,1224.7 L248.7,1224.9 L251.3,1225.2 L253.8,1225.3 L256.3,1225.4 L258.8,1225.7 L261.3,1226.1 L263.8,1226.0 L266.4,1226.3 L268.9,1226.3 L271.4,1226.5 L273.9,1226.6 L276.4,1227.0 L278.9,1227.2 L281.4,1227.3 L284.0,1227.4 L286.5,1227.7 L289.0,1227.7 L291.5,1227.9 L294.0,1228.0 L296.5,1228.1 L299.1,1227.8 L301.6,1228.2 L304.1,1228.6 L306.6,1228.6 L309.1,1229.0 L311.6,1228.7 L314.2,1228.9 L316.7,1229.3 L319.2,1229.3 L321.7,1229.6 L324.2,1229.4 L326.7,1229.5 L329.2,1229.6 L331.8,1229.5 L334.3,1229.7 L336.8,1229.8 L339.3,1229.9 L341.8,1230.1 L344.3,1230.1 L346.9,1230.3 L349.4,1230.3 L351.9,1230.4 L354.4,1230.1 L356.9,1230.6 L359.4,1230.7 L361.9,1230.6 L364.5,1231.0 L367.0,1231.0 L369.5,1231.2 L372.0,1231.2 L374.5,1231.2 L377.0,1231.2 L379.6,1231.1 L382.1,1231.3 L384.6,1231.4 L387.1,1231.6 L389.6,1231.7 L392.1,1232.1 L394.6,1231.6 L397.2,1232.0 L399.7,1231.8 L402.2,1232.0 L404.7,1232.2 L407.2,1232.1 L409.7,1232.0 L412.3,1232.3 L414.8,1232.2 L417.3,1232.1 L419.8,1232.5 L422.3,1232.4 L424.8,1232.5 L427.3,1232.8 L429.9,1232.8 L432.4,1232.9 L434.9,1233.3 L437.4,1233.0 L439.9,1232.9 L442.4,1233.1 L445.0,1233.1 L447.5,1232.8 L450.0,1233.0 L452.5,1233.2 L455.0,1233.7 L457.5,1233.4 L460.0,1233.5 L462.6,1233.5 L465.1,1233.8 L467.6,1233.8 L470.1,1234.0 L472.6,1234.0 L475.1,1234.1 L477.7,1233.9 L480.2,1234.0 L482.7,1233.9 L485.2,1234.0 L487.7,1233.8 L490.2,1234.0 L492.8,1234.0 L495.3,1234.2 L497.8,1234.5 L500.3,1234.4 L502.8,1234.6 L505.3,1234.6 L507.8,1234.6 L510.4,1234.6 L512.9,1234.5 L515.4,1234.7 L517.9,1234.5 L520.4,1234.6 L522.9,1235.0 L525.5,1235.0 L528.0,1234.7 L530.5,1235.1 L533.0,1234.9 L535.5,1234.8 L538.0,1235.0 L540.5,1235.0 L543.1,1235.0 L545.6,1234.9 L548.1,1234.9 L550.6,1235.1 L553.1,1235.3 L555.6,1235.3 L558.2,1235.3 L560.7,1235.4 L563.2,1235.1 L565.7,1235.3 L568.2,1235.4 L570.7,1235.5 L573.2,1235.4 L575.8,1235.5 L578.3,1235.6 L580.8,1235.7 L583.3,1235.2 L585.8,1235.6 L588.3,1236.0 L590.9,1235.6 L593.4,1235.4 L595.9,1235.6 L598.4,1235.4 L600.9,1235.6 L603.4,1235.8 L605.9,1236.0 L608.5,1235.9 L611.0,1235.9 L613.5,1236.0 L616.0,1235.8 L618.5,1235.7 L621.0,1235.9 L623.6,1235.9 L626.1,1235.8 L628.6,1235.8 L631.1,1235.8 L633.6,1235.7 L636.1,1235.8 L638.7,1236.0 L641.2,1236.0 L643.7,1236.1 L646.2,1236.3 L648.7,1236.1 L651.2,1236.0 L653.7,1235.8 L656.3,1235.9 L658.8,1236.1 L661.3,1236.0 L663.8,1236.1 L666.3,1236.0 L668.8,1236.2 L671.4,1236.2 L673.9,1236.3 L676.4,1236.1 L678.9,1236.1 L681.4,1236.2 L683.9,1236.3 L686.4,1236.5 L689.0,1236.2 L691.5,1236.1 L694.0,1236.2 L696.5,1236.3 L699.0,1236.3 L701.5,1236.3 L704.1,1236.2 L706.6,1236.7 L709.1,1236.6 L711.6,1236.3 L714.1,1236.1 L716.6,1236.4 L719.1,1236.3 L721.7,1236.0 L724.2,1236.3 L726.7,1236.1 L729.2,1236.5 L731.7,1236.6 L734.2,1236.5 L736.8,1236.2 L739.3,1236.6 L741.8,1236.5 L744.3,1236.3 L746.8,1236.5 L749.3,1236.6 L751.8,1236.3 L754.4,1236.4 L756.9,1236.4 L759.4,1236.5 L761.9,1236.1 L764.4,1236.6 L766.9,1236.0 L769.5,1235.2 L772.0,1233.3 L774.5,1231.7 L777.0,1229.6 L779.5,1226.7 L782.0,1223.6 L784.5,1221.9 L787.1,1220.1 L789.6,1219.3 L792.1,1218.7 L794.6,1218.6 L797.1,1218.7 L799.6,1219.4 L802.2,1219.9 L804.7,1221.6 L807.2,1223.8 L809.7,1225.1 L812.2,1226.7 L814.7,1228.0 L817.3,1229.5 L819.8,1230.7 L822.3,1232.6 L824.8,1234.0 L827.3,1235.2 L829.8,1236.0 L832.3,1236.5 L834.9,1236.3 L837.4,1236.2 L839.9,1236.6 L842.4,1236.3 L844.9,1236.4 L847.4,1236.4 L850.0,1236.2 L852.5,1236.2 L855.0,1236.4 L857.5,1236.7 L860.0,1236.6 L862.5,1236.3 L865.0,1236.7 L867.6,1236.6 L870.1,1236.6 L872.6,1236.6 L875.1,1236.6 L877.6,1236.4 L880.1,1236.4 L882.7,1236.5 L885.2,1236.6 L887.7,1236.7 L890.2,1236.5 L892.7,1236.9 L895.2,1236.5 L897.7,1236.6 L900.3,1236.8 L902.8,1236.7 L905.3,1236.6 L907.8,1236.5 L910.3,1236.5 L912.8,1236.5 L915.4,1236.9 L917.9,1236.9 L920.4,1237.0 L922.9,1236.8 L925.4,1236.8 L927.9,1236.9 L930.4,1236.9 L933.0,1236.7 L935.5,1236.9 L938.0,1237.0 L940.5,1236.4 L943.0,1236.5 L945.5,1236.6 L948.1,1236.9 L950.6,1236.9 L953.1,1236.7 L955.6,1236.9 L958.1,1236.8 L960.6,1236.8 L963.1,1236.7 L965.7,1236.8 L968.2,1236.8 L970.7,1237.0 L973.2,1237.0 L975.7,1236.5 L978.2,1236.9 L980.8,1236.8 L983.3,1237.0 L985.8,1237.0 L988.3,1236.9 L990.8,1236.9 L993.3,1236.6 L995.9,1236.6 L998.4,1237.1 L1000.9,1236.9 L1003.4,1236.7 L1005.9,1237.0 L1008.4,1236.8 L1010.9,1236.5 L1013.5,1236.9 L1016.0,1236.7 L1018.5,1237.0 L1021.0,1236.7 L1023.5,1236.7 L1026.0,1236.6 L1028.6,1236.8 L1031.1,1237.0 L1033.6,1236.7 L1036.1,1236.6 L1038.6,1237.2 L1041.1,1237.2 L1043.6,1236.9 L1046.2,1236.7 L1048.7,1236.6 L1051.2,1236.6 L1053.7,1237.0 L1056.2,1237.0 L1058.7,1236.7 L1061.3,1236.9 L1063.8,1236.8 L1066.3,1236.9 L1068.8,1237.0 L1071.3,1237.2 L1073.8,1236.8 L1076.3,1237.1 L1078.9,1237.0 L1081.4,1236.8 L1083.9,1236.8 L1086.4,1236.7 L1088.9,1237.0 L1091.4,1236.8 L1094.0,1236.8 L1096.5,1236.9 L1099.0,1236.7 L1101.5,1236.7 L1104.0,1236.9 L1106.5,1237.1 L1109.0,1236.9 L1111.6,1236.9 L1114.1,1236.6 L1116.6,1236.7 L1119.1,1237.2 L1121.6,1236.8 L1124.1,1236.7 L1126.7,1236.9 L1129.2,1237.0 L1131.7,1236.6 L1134.2,1236.8 L1136.7,1237.0 L1139.2,1236.8 L1141.8,1237.1 L1144.3,1237.1 L1146.8,1237.0 L1149.3,1236.9 L1151.8,1236.9 L1154.3,1236.9 L1156.8,1237.0 L1159.4,1237.0 L1161.9,1237.0 L1164.4,1237.2 L1166.9,1237.4 L1169.4,1236.9 L1171.9,1237.1 L1174.5,1237.1 L1177.0,1237.1 L1179.5,1236.9 L1182.0,1237.0 L1184.5,1237.2 L1187.0,1237.1 L1189.5,1237.0 L1192.1,1236.9 L1194.6,1237.1 L1197.1,1237.1 L1199.6,1237.0 L1202.1,1237.2 L1204.6,1237.3 L1207.2,1236.7 L1209.7,1237.1 L1212.2,1236.8 L1214.7,1236.8 L1217.2,1237.0 L1219.7,1237.1 L1222.2,1237.0 L1224.8,1236.8 L1227.3,1236.8 L1229.8,1236.9 L1232.3,1237.0 L1234.8,1236.8 L1237.3,1236.9 L1239.9,1237.3 L1242.4,1236.9 L1244.9,1237.0 L1247.4,1236.9 L1249.9,1236.9 L1252.4,1237.0 L1254.9,1237.0 L1257.5,1237.1 L1260.0,1236.8 L1262.5,1236.9 L1265.0,1237.3 L1267.5,1237.1 L1270.0,1237.2 L1272.6,1237.3 L1275.1,1237.1 L1277.6,1237.0 L1280.1,1236.8 L1282.6,1236.9 L1285.1,1237.2 L1287.6,1237.2 L1290.2,1237.1 L1292.7,1236.7 L1295.2,1236.7 L1297.7,1236.9 L1300.2,1236.9 L1302.7,1237.1 L1305.3,1237.0 L1307.8,1237.3 L1310.3,1237.0 L1312.8,1237.0 L1315.3,1237.2 L1317.8,1237.1 L1320.4,1237.0 L1322.9,1237.3 L1325.4,1237.3 L1327.9,1236.9 L1330.4,1237.0 L1332.9,1236.8 L1335.4,1236.8 L1338.0,1237.2 L1340.5,1237.2 L1343.0,1237.3 L1345.5,1237.1 L1348.0,1236.8 L1350.5,1237.1 L1353.1,1236.9 L1355.6,1236.9 L1358.1,1237.0 L1360.6,1237.2 L1363.1,1237.1 L1365.6,1237.4 L1368.1,1237.1 L1370.7,1236.9 L1373.2,1237.3 L1375.7,1237.3 L1378.2,1237.1 L1380.7,1237.0 L1383.2,1237.3 L1385.8,1236.9 L1388.3,1237.0 L1390.8,1236.8 L1393.3,1236.9 L1395.8,1236.9 L1398.3,1237.3 L1400.8,1237.3 L1403.4,1237.0 L1405.9,1236.9 L1408.4,1237.1 L1410.9,1237.1 L1413.4,1236.8 L1415.9,1236.9 L1418.5,1237.1 L1421.0,1237.2 L1423.5,1237.2 L1426.0,1237.2 L1428.5,1236.8 L1431.0,1236.8 L1433.5,1237.2 L1436.1,1237.0 L1438.6,1237.1 L1441.1,1237.1 L1443.6,1237.2 L1446.1,1237.1 L1448.6,1237.4 L1451.2,1237.2 L1453.7,1237.3 L1456.2,1237.3 L1458.7,1237.3 L1461.2,1237.1 L1463.7,1236.9 L1466.2,1237.1 L1468.8,1237.5 L1471.3,1237.3 L1473.8,1237.3 L1476.3,1237.2 L1478.8,1237.0 L1481.3,1237.0 L1483.9,1237.1 L1486.4,1237.4 L1488.9,1237.3 L1491.4,1237.5 L1493.9,1237.3 L1496.4,1237.5 L1499.0,1237.2 L1501.5,1237.1 L1504.0,1237.5 L1506.5,1237.3 L1509.0,1237.4 L1511.5,1237.2 L1514.0,1237.1 L1516.6,1237.2 L1519.1,1237.0 L1521.6,1237.0 L1524.1,1237.0 L1526.6,1237.1 L1529.1,1237.0 L1531.7,1237.2 L1534.2,1237.3 L1536.7,1237.6 L1539.2,1237.5 L1541.7,1237.2 L1544.2,1237.3 L1546.7,1237.2 L1549.3,1237.3 L1551.8,1237.2 L1554.3,1237.1 L1556.8,1237.2 L1559.3,1237.0 L1561.8,1237.3 L1564.4,1237.1 L1566.9,1237.0 L1569.4,1237.2 L1571.9,1237.3 L1574.4,1237.1 L1576.9,1237.3 L1579.4,1237.4 L1582.0,1237.4 L1584.5,1237.0 L1587.0,1237.2 L1589.5,1237.4 L1592.0,1237.5 L1594.5,1237.3 L1597.1,1237.3 L1599.6,1237.0 L1602.1,1237.2 L1604.6,1237.5 L1607.1,1237.3 L1609.6,1237.5 L1612.1,1237.1 L1614.7,1237.1 L1617.2,1237.0 L1619.7,1237.3 L1622.2,1237.4 L1624.7,1237.6 L1627.2,1237.3 L1629.8,1237.1 L1632.3,1237.0 L1634.8,1237.3 L1637.3,1237.4 L1639.8,1237.4 L1642.3,1237.5 L1644.9,1237.4 L1647.4,1237.3 L1649.9,1237.4 L1652.4,1237.2 L1654.9,1237.1 L1657.4,1237.5 L1659.9,1237.3 L1662.5,1237.1 L1665.0,1237.3 L1667.5,1237.4 L1670.0,1237.5 L1672.5,1237.4 L1675.0,1236.8 L1677.6,1237.4 L1680.1,1237.5 L1682.6,1237.1 L1685.1,1237.0 L1687.6,1237.3 L1690.1,1237.3 L1692.6,1237.3 L1695.2,1237.1 L1697.7,1237.2 L1700.2,1237.3 L1702.7,1237.5 L1705.2,1237.6 L1707.7,1237.3 L1710.3,1237.1 L1712.8,1237.0 L1715.3,1237.5 L1717.8,1237.3 L1720.3,1237.2" stroke="#00CCCC" stroke-width="8.0"/>
<path d="M208.5,1235.9 L211.0,1236.0 L213.5,1236.0 L216.0,1235.6 L218.6,1235.5 L221.1,1235.7 L223.6,1235.5 L226.1,1235.9 L228.6,1236.2 L231.1,1236.3 L233.7,1236.0 L236.2,1236.0 L238.7,1236.2 L241.2,1236.3 L243.7,1235.8 L246.2,1235.6 L248.7,1235.7 L251.3,1235.7 L253.8,1235.8 L256.3,1236.0 L258.8,1236.1 L261.3,1236.1 L263.8,1236.1 L266.4,1236.0 L268.9,1236.3 L271.4,1236.4 L273.9,1236.4 L276.4,1236.5 L278.9,1236.1 L281.4,1236.2 L284.0,1236.6 L286.5,1236.3 L289.0,1236.3 L291.5,1236.2 L294.0,1236.5 L296.5,1236.1 L299.1,1236.0 L301.6,1236.3 L304.1,1236.3 L306.6,1236.5 L309.1,1236.3 L311.6,1236.4 L314.2,1236.3 L316.7,1236.4 L319.2,1236.3 L321.7,1236.6 L324.2,1236.0 L326.7,1236.3 L329.2,1236.3 L331.8,1236.6 L334.3,1236.5 L336.8,1236.5 L339.3,1236.3 L341.8,1236.2 L344.3,1236.2 L346.9,1236.4 L349.4,1236.4 L351.9,1236.6 L354.4,1236.6 L356.9,1236.7 L359.4,1236.4 L361.9,1236.3 L364.5,1236.2 L367.0,1236.5 L369.5,1236.7 L372.0,1237.0 L374.5,1236.7 L377.0,1237.0 L379.6,1236.9 L382.1,1236.3 L384.6,1236.9 L387.1,1236.9 L389.6,1236.8 L392.1,1236.6 L394.6,1236.7 L397.2,1236.4 L399.7,1236.5 L402.2,1236.6 L404.7,1236.9 L407.2,1236.5 L409.7,1236.8 L412.3,1236.5 L414.8,1236.4 L417.3,1236.6 L419.8,1236.6 L422.3,1236.4 L424.8,1236.6 L427.3,1236.3 L429.9,1236.3 L432.4,1236.6 L434.9,1236.4 L437.4,1236.2 L439.9,1236.1 L442.4,1236.6 L445.0,1236.6 L447.5,1236.4 L450.0,1236.5 L452.5,1236.2 L455.0,1236.7 L457.5,1236.7 L460.0,1236.6 L462.6,1236.4 L465.1,1236.6 L467.6,1236.6 L470.1,1236.8 L472.6,1236.6 L475.1,1236.6 L477.7,1236.4 L480.2,1236.8 L482.7,1236.8 L485.2,1236.5 L487.7,1236.7 L490.2,1236.6 L492.8,1236.5 L495.3,1236.4 L497.8,1236.9 L500.3,1236.1 L502.8,1236.6 L505.3,1236.5 L507.8,1236.8 L510.4,1236.5 L512.9,1236.6 L515.4,1236.7 L517.9,1236.6 L520.4,1236.5 L522.9,1236.8 L525.5,1236.7 L528.0,1236.8 L530.5,1236.4 L533.0,1236.5 L535.5,1236.4 L538.0,1236.4 L540.5,1236.7 L543.1,1236.8 L545.6,1236.9 L548.1,1236.5 L550.6,1236.7 L553.1,1236.8 L555.6,1236.6 L558.2,1236.6 L560.7,1236.6 L563.2,1236.4 L565.7,1236.4 L568.2,1236.9 L570.7,1236.6 L573.2,1236.5 L575.8,1236.3 L578.3,1236.7 L580.8,1236.8 L583.3,1236.3 L585.8,1236.4 L588.3,1236.9 L590.9,1237.0 L593.4,1236.9 L595.9,1236.5 L598.4,1236.7 L600.9,1236.4 L603.4,1236.7 L605.9,1236.5 L608.5,1236.7 L611.0,1236.9 L613.5,1236.7 L616.0,1236.5 L618.5,1236.6 L621.0,1236.6 L623.6,1236.5 L626.1,1236.7 L628.6,1236.8 L631.1,1236.8 L633.6,1236.0 L636.1,1236.2 L638.7,1236.4 L641.2,1236.9 L643.7,1237.2 L646.2,1236.6 L648.7,1236.7 L651.2,1236.7 L653.7,1236.0 L656.3,1236.4 L658.8,1235.9 L661.3,1236.6 L663.8,1236.4 L666.3,1236.5 L668.8,1236.6 L671.4,1236.5 L673.9,1236.9 L676.4,1236.6 L678.9,1236.8 L681.4,1237.2 L683.9,1236.5 L686.4,1236.8 L689.0,1236.5 L691.5,1237.0 L694.0,1236.8 L696.5,1236.7 L699.0,1236.9 L701.5,1237.1 L704.1,1236.9 L706.6,1236.6 L709.1,1236.7 L711.6,1236.8 L714.1,1236.2 L716.6,1236.5 L719.1,1236.7 L721.7,1236.8 L724.2,1237.1 L726.7,1237.0 L729.2,1236.7 L731.7,1236.6 L734.2,1236.3 L736.8,1236.6 L739.3,1236.6 L741.8,1236.5 L744.3,1236.7 L746.8,1236.7 L749.3,1236.3 L751.8,1236.4 L754.4,1236.2 L756.9,1236.8 L759.4,1236.2 L761.9,1236.2 L764.4,1236.8 L766.9,1236.6 L769.5,1236.8 L772.0,1236.5 L774.5,1236.7 L777.0,1235.8 L779.5,1235.1 L782.0,1234.5 L784.5,1233.8 L787.1,1233.6 L789.6,1233.6 L792.1,1232.9 L794.6,1232.8 L797.1,1233.2 L799.6,1233.5 L802.2,1233.3 L804.7,1233.9 L807.2,1234.5 L809.7,1235.5 L812.2,1236.0 L814.7,1236.0 L817.3,1236.2 L819.8,1236.7 L822.3,1236.3 L824.8,1237.0 L827.3,1237.0 L829.8,1237.5 L832.3,1237.2 L834.9,1236.9 L837.4,1236.9 L839.9,1236.9 L842.4,1236.9 L844.9,1237.1 L847.4,1237.2 L850.0,1236.7 L852.5,1237.1 L855.0,1237.4 L857.5,1237.2 L860.0,1236.8 L862.5,1236.8 L865.0,1236.8 L867.6,1236.8 L870.1,1237.3 L872.6,1237.0 L875.1,1236.8 L877.6,1236.7 L880.1,1237.0 L882.7,1237.1 L885.2,1237.5 L887.7,1237.0 L890.2,1237.2 L892.7,1237.4 L895.2,1237.2 L897.7,1236.9 L900.3,1236.7 L902.8,1237.5 L905.3,1237.2 L907.8,1237.0 L910.3,1237.0 L912.8,1236.8 L915.4,1236.8 L917.9,1236.8 L920.4,1237.3 L922.9,1237.3 L925.4,1237.2 L927.9,1237.3 L930.4,1237.3 L933.0,1237.1 L935.5,1237.0 L938.0,1237.3 L940.5,1237.5 L943.0,1237.4 L945.5,1237.4 L948.1,1237.0 L950.6,1237.0 L953.1,1237.4 L955.6,1237.0 L958.1,1237.2 L960.6,1237.1 L963.1,1237.1 L965.7,1237.1 L968.2,1236.9 L970.7,1236.8 L973.2,1237.6 L975.7,1237.1 L978.2,1236.6 L980.8,1236.9 L983.3,1236.8 L985.8,1236.8 L988.3,1236.6 L990.8,1237.4 L993.3,1237.5 L995.9,1237.1 L998.4,1237.4 L1000.9,1237.2 L1003.4,1236.9 L1005.9,1237.3 L1008.4,1236.7 L1010.9,1237.0 L1013.5,1237.2 L1016.0,1237.5 L1018.5,1237.2 L1021.0,1237.1 L1023.5,1237.0 L1026.0,1237.2 L1028.6,1237.2 L1031.1,1237.4 L1033.6,1237.5 L1036.1,1237.3 L1038.6,1237.2 L1041.1,1237.2 L1043.6,1237.6 L1046.2,1237.2 L1048.7,1237.3 L1051.2,1237.7 L1053.7,1237.6 L1056.2,1237.3 L1058.7,1237.1 L1061.3,1237.1 L1063.8,1237.4 L1066.3,1237.1 L1068.8,1237.4 L1071.3,1237.0 L1073.8,1237.2 L1076.3,1237.3 L1078.9,1237.2 L1081.4,1237.3 L1083.9,1237.2 L1086.4,1236.9 L1088.9,1236.9 L1091.4,1237.3 L1094.0,1237.6 L1096.5,1237.1 L1099.0,1236.9 L1101.5,1237.0 L1104.0,1237.3 L1106.5,1237.4 L1109.0,1237.1 L1111.6,1237.4 L1114.1,1237.2 L1116.6,1237.1 L1119.1,1237.0 L1121.6,1237.1 L1124.1,1237.1 L1126.7,1237.2 L1129.2,1236.9 L1131.7,1237.5 L1134.2,1237.4 L1136.7,1237.5 L1139.2,1237.6 L1141.8,1237.3 L1144.3,1236.8 L1146.8,1237.3 L1149.3,1237.3 L1151.8,1237.0 L1154.3,1237.0 L1156.8,1237.4 L1159.4,1237.3 L1161.9,1237.1 L1164.4,1237.2 L1166.9,1237.1 L1169.4,1237.1 L1171.9,1237.3 L1174.5,1237.4 L1177.0,1236.9 L1179.5,1237.3 L1182.0,1237.7 L1184.5,1237.3 L1187.0,1237.3 L1189.5,1237.4 L1192.1,1237.0 L1194.6,1236.9 L1197.1,1236.8 L1199.6,1236.9 L1202.1,1237.4 L1204.6,1237.4 L1207.2,1237.1 L1209.7,1237.1 L1212.2,1237.4 L1214.7,1237.4 L1217.2,1237.2 L1219.7,1236.8 L1222.2,1237.0 L1224.8,1236.7 L1227.3,1237.3 L1229.8,1237.1 L1232.3,1237.2 L1234.8,1237.7 L1237.3,1237.6 L1239.9,1237.4 L1242.4,1237.4 L1244.9,1237.3 L1247.4,1237.2 L1249.9,1237.4 L1252.4,1237.7 L1254.9,1237.1 L1257.5,1237.2 L1260.0,1237.4 L1262.5,1237.6 L1265.0,1237.4 L1267.5,1237.1 L1270.0,1237.3 L1272.6,1237.2 L1275.1,1237.0 L1277.6,1237.3 L1280.1,1237.3 L1282.6,1237.6 L1285.1,1237.4 L1287.6,1237.1 L1290.2,1237.3 L1292.7,1237.2 L1295.2,1237.2 L1297.7,1237.3 L1300.2,1237.6 L1302.7,1237.1 L1305.3,1236.9 L1307.8,1237.2 L1310.3,1237.7 L1312.8,1237.8 L1315.3,1237.1 L1317.8,1237.2 L1320.4,1237.2 L1322.9,1237.0 L1325.4,1237.4 L1327.9,1237.4 L1330.4,1237.6 L1332.9,1237.9 L1335.4,1237.3 L1338.0,1237.6 L1340.5,1237.5 L1343.0,1237.2 L1345.5,1237.3 L1348.0,1237.8 L1350.5,1237.5 L1353.1,1237.3 L1355.6,1237.2 L1358.1,1237.6 L1360.6,1237.6 L1363.1,1238.0 L1365.6,1237.8 L1368.1,1237.6 L1370.7,1237.4 L1373.2,1237.4 L1375.7,1237.3 L1378.2,1237.5 L1380.7,1237.5 L1383.2,1237.6 L1385.8,1237.7 L1388.3,1237.4 L1390.8,1237.3 L1393.3,1237.7 L1395.8,1237.7 L1398.3,1237.2 L1400.8,1237.5 L1403.4,1237.6 L1405.9,1237.6 L1408.4,1237.5 L1410.9,1237.4 L1413.4,1237.5 L1415.9,1237.9 L1418.5,1237.7 L1421.0,1236.9 L1423.5,1236.9 L1426.0,1237.5 L1428.5,1237.2 L1431.0,1237.2 L1433.5,1237.1 L1436.1,1237.5 L1438.6,1237.4 L1441.1,1237.4 L1443.6,1237.8 L1446.1,1238.1 L1448.6,1237.8 L1451.2,1237.7 L1453.7,1237.4 L1456.2,1237.6 L1458.7,1237.5 L1461.2,1237.7 L1463.7,1237.6 L1466.2,1237.5 L1468.8,1237.5 L1471.3,1237.3 L1473.8,1237.7 L1476.3,1237.8 L1478.8,1237.4 L1481.3,1237.5 L1483.9,1237.1 L1486.4,1237.7 L1488.9,1237.6 L1491.4,1237.3 L1493.9,1237.9 L1496.4,1237.4 L1499.0,1237.0 L1501.5,1237.2 L1504.0,1237.6 L1506.5,1237.5 L1509.0,1237.6 L1511.5,1237.1 L1514.0,1237.5 L1516.6,1237.7 L1519.1,1237.4 L1521.6,1237.6 L1524.1,1237.4 L1526.6,1237.6 L1529.1,1237.7 L1531.7,1237.9 L1534.2,1237.2 L1536.7,1237.7 L1539.2,1237.7 L1541.7,1237.2 L1544.2,1237.6 L1546.7,1238.1 L1549.3,1237.6 L1551.8,1236.8 L1554.3,1237.3 L1556.8,1237.1 L1559.3,1237.5 L1561.8,1237.3 L1564.4,1237.3 L1566.9,1237.3 L1569.4,1237.5 L1571.9,1237.3 L1574.4,1237.3 L1576.9,1237.5 L1579.4,1237.6 L1582.0,1237.4 L1584.5,1237.7 L1587.0,1237.2 L1589.5,1237.6 L1592.0,1237.5 L1594.5,1237.8 L1597.1,1237.3 L1599.6,1237.3 L1602.1,1237.3 L1604.6,1238.0 L1607.1,1237.6 L1609.6,1237.3 L1612.1,1237.4 L1614.7,1237.4 L1617.2,1237.9 L1619.7,1237.5 L1622.2,1237.1 L1624.7,1237.6 L1627.2,1237.8 L1629.8,1237.6 L1632.3,1237.6 L1634.8,1237.5 L1637.3,1237.6 L1639.8,1237.6 L1642.3,1237.4 L1644.9,1237.6 L1647.4,1237.6 L1649.9,1237.5 L1652.4,1237.3 L1654.9,1237.3 L1657.4,1237.7 L1659.9,1237.6 L1662.5,1237.0 L1665.0,1237.5 L1667.5,1237.9 L1670.0,1237.7 L1672.5,1237.5 L1675.0,1237.8 L1677.6,1237.3 L1680.1,1237.5 L1682.6,1238.0 L1685.1,1237.5 L1687.6,1237.4 L1690.1,1237.1 L1692.6,1237.3 L1695.2,1237.3 L1697.7,1237.4 L1700.2,1237.2 L1702.7,1237.8 L1705.2,1237.5 L1707.7,1237.4 L1710.3,1237.5 L1712.8,1237.9 L1715.3,1237.9 L1717.8,1237.6 L1720.3,1238.1" stroke="#7C4F4F" stroke-width="8.0"/>
<path d="M208.5,1238.0 L211.0,1237.9 L213.5,1237.5 L216.0,1237.9 L218.6,1238.1 L221.1,1238.2 L223.6,1237.6 L226.1,1237.4 L228.6,1237.7 L231.1,1238.1 L233.7,1238.0 L236.2,1238.1 L238.7,1238.0 L241.2,1237.8 L243.7,1237.7 L246.2,1238.1 L248.7,1238.1 L251.3,1238.2 L253.8,1238.2 L256.3,1237.6 L258.8,1237.4 L261.3,1237.7 L263.8,1238.5 L266.4,1237.8 L268.9,1238.1 L271.4,1238.1 L273.9,1238.4 L276.4,1238.8 L278.9,1237.9 L281.4,1237.9 L284.0,1237.9 L286.5,1238.1 L289.0,1238.1 L291.5,1237.9 L294.0,1238.4 L296.5,1238.3 L299.1,1238.1 L301.6,1238.0 L304.1,1237.9 L306.6,1237.7 L309.1,1238.1 L311.6,1237.8 L314.2,1238.0 L316.7,1238.2 L319.2,1237.8 L321.7,1238.0 L324.2,1238.4 L326.7,1238.4 L329.2,1237.9 L331.8,1238.3 L334.3,1237.9 L336.8,1238.2 L339.3,1238.1 L341.8,1237.8 L344.3,1238.4 L346.9,1238.5 L349.4,1238.1 L351.9,1238.0 L354.4,1237.9 L356.9,1238.5 L359.4,1238.0 L361.9,1237.8 L364.5,1238.1 L367.0,1237.7 L369.5,1237.8 L372.0,1237.6 L374.5,1238.5 L377.0,1238.5 L379.6,1237.9 L382.1,1237.9 L384.6,1237.9 L387.1,1238.0 L389.6,1238.3 L392.1,1238.4 L394.6,1237.9 L397.2,1238.1 L399.7,1237.7 L402.2,1238.4 L404.7,1238.0 L407.2,1238.0 L409.7,1238.4 L412.3,1238.1 L414.8,1238.5 L417.3,1238.4 L419.8,1238.4 L422.3,1237.9 L424.8,1238.1 L427.3,1238.2 L429.9,1238.1 L432.4,1238.4 L434.9,1238.0 L437.4,1238.4 L439.9,1238.3 L442.4,1237.6 L445.0,1237.8 L447.5,1237.8 L450.0,1238.0 L452.5,1238.2 L455.0,1238.1 L457.5,1238.1 L460.0,1238.0 L462.6,1238.1 L465.1,1238.3 L467.6,1238.2 L470.1,1237.9 L472.6,1238.0 L475.1,1237.9 L477.7,1238.0 L480.2,1237.8 L482.7,1238.4 L485.2,1238.2 L487.7,1238.0 L490.2,1237.9 L492.8,1238.0 L495.3,1237.8 L497.8,1237.8 L500.3,1238.7 L502.8,1238.8 L505.3,1237.7 L507.8,1237.9 L510.4,1238.3 L512.9,1238.2 L515.4,1237.6 L517.9,1237.7 L520.4,1238.1 L522.9,1237.7 L525.5,1238.4 L528.0,1238.0 L530.5,1238.1 L533.0,1238.1 L535.5,1238.0 L538.0,1238.1 L540.5,1238.1 L543.1,1238.4 L545.6,1238.1 L548.1,1238.1 L550.6,1238.0 L553.1,1237.9 L555.6,1237.9 L558.2,1238.2 L560.7,1238.6 L563.2,1238.4 L565.7,1238.3 L568.2,1238.6 L570.7,1238.4 L573.2,1238.2 L575.8,1238.0 L578.3,1237.9 L580.8,1238.2 L583.3,1238.0 L585.8,1237.7 L588.3,1237.9 L590.9,1238.6 L593.4,1238.2 L595.9,1238.3 L598.4,1238.2 L600.9,1238.1 L603.4,1238.3 L605.9,1238.4 L608.5,1238.1 L611.0,1238.3 L613.5,1238.4 L616.0,1238.0 L618.5,1238.1 L621.0,1238.0 L623.6,1238.3 L626.1,1238.1 L628.6,1238.4 L631.1,1238.1 L633.6,1238.5 L636.1,1238.0 L638.7,1237.9 L641.2,1238.0 L643.7,1238.3 L646.2,1238.1 L648.7,1238.7 L651.2,1238.5 L653.7,1238.2 L656.3,1237.8 L658.8,1238.1 L661.3,1237.9 L663.8,1237.8 L666.3,1238.4 L668.8,1238.7 L671.4,1238.1 L673.9,1238.4 L676.4,1238.4 L678.9,1237.9 L681.4,1238.1 L683.9,1238.3 L686.4,1238.2 L689.0,1237.9 L691.5,1238.2 L694.0,1238.2 L696.5,1238.3 L699.0,1237.8 L701.5,1238.0 L704.1,1238.0 L706.6,1238.1 L709.1,1238.3 L711.6,1238.2 L714.1,1238.8 L716.6,1238.1 L719.1,1238.4 L721.7,1238.5 L724.2,1238.4 L726.7,1238.1 L729.2,1238.0 L731.7,1238.2 L734.2,1238.4 L736.8,1238.3 L739.3,1238.4 L741.8,1238.3 L744.3,1237.9 L746.8,1238.1 L749.3,1238.5 L751.8,1238.0 L754.4,1237.9 L756.9,1238.6 L759.4,1237.9 L761.9,1238.0 L764.4,1238.4 L766.9,1237.9 L769.5,1238.1 L772.0,1238.4 L774.5,1238.2 L777.0,1238.8 L779.5,1238.4 L782.0,1238.9 L784.5,1238.2 L787.1,1238.2 L789.6,1238.0 L792.1,1238.1 L794.6,1238.1 L797.1,1238.3 L799.6,1238.3 L802.2,1237.9 L804.7,1237.9 L807.2,1237.8 L809.7,1238.6 L812.2,1238.2 L814.7,1238.2 L817.3,1238.3 L819.8,1238.5 L822.3,1238.3 L824.8,1238.4 L827.3,1238.2 L829.8,1238.2 L832.3,1238.1 L834.9,1237.8 L837.4,1238.4 L839.9,1237.8 L842.4,1238.0 L844.9,1238.4 L847.4,1238.3 L850.0,1238.5 L852.5,1238.8 L855.0,1238.8 L857.5,1238.6 L860.0,1238.3 L862.5,1238.7 L865.0,1238.0 L867.6,1238.3 L870.1,1238.5 L872.6,1238.2 L875.1,1238.2 L877.6,1238.2 L880.1,1238.4 L882.7,1237.7 L885.2,1238.6 L887.7,1238.5 L890.2,1238.3 L892.7,1238.3 L895.2,1238.1 L897.7,1238.7 L900.3,1238.9 L902.8,1238.1 L905.3,1238.6 L907.8,1238.2 L910.3,1238.1 L912.8,1238.1 L915.4,1238.1 L917.9,1237.9 L920.4,1238.0 L922.9,1238.7 L925.4,1238.3 L927.9,1238.4 L930.4,1238.4 L933.0,1238.3 L935.5,1237.8 L938.0,1238.1 L940.5,1238.5 L943.0,1238.4 L945.5,1238.0 L948.1,1238.1 L950.6,1238.1 L953.1,1238.5 L955.6,1238.4 L958.1,1238.2 L960.6,1238.1 L963.1,1238.4 L965.7,1238.2 L968.2,1238.1 L970.7,1238.3 L973.2,1238.2 L975.7,1238.6 L978.2,1238.4 L980.8,1238.2 L983.3,1238.4 L985.8,1238.3 L988.3,1238.1 L990.8,1238.0 L993.3,1237.8 L995.9,1238.0 L998.4,1238.5 L1000.9,1238.5 L1003.4,1238.2 L1005.9,1238.4 L1008.4,1238.4 L1010.9,1238.5 L1013.5,1238.5 L1016.0,1238.6 L1018.5,1238.4 L1021.0,1238.2 L1023.5,1238.3 L1026.0,1237.7 L1028.6,1238.3 L1031.1,1238.4 L1033.6,1238.4 L1036.1,1238.3 L1038.6,1238.6 L1041.1,1238.6 L1043.6,1238.1 L1046.2,1238.2 L1048.7,1238.4 L1051.2,1238.5 L1053.7,1238.4 L1056.2,1238.5 L1058.7,1238.1 L1061.3,1238.6 L1063.8,1238.7 L1066.3,1238.6 L1068.8,1238.4 L1071.3,1238.3 L1073.8,1238.4 L1076.3,1238.2 L1078.9,1237.9 L1081.4,1238.2 L1083.9,1238.3 L1086.4,1238.2 L1088.9,1238.1 L1091.4,1238.3 L1094.0,1238.3 L1096.5,1238.4 L1099.0,1238.4 L1101.5,1238.5 L1104.0,1238.6 L1106.5,1238.4 L1109.0,1238.4 L1111.6,1237.9 L1114.1,1237.6 L1116.6,1238.3 L1119.1,1238.5 L1121.6,1238.2 L1124.1,1238.1 L1126.7,1238.1 L1129.2,1238.6 L1131.7,1238.3 L1134.2,1238.5 L1136.7,1238.7 L1139.2,1238.6 L1141.8,1238.9 L1144.3,1238.4 L1146.8,1238.7 L1149.3,1238.5 L1151.8,1238.2 L1154.3,1238.4 L1156.8,1238.2 L1159.4,1238.2 L1161.9,1238.4 L1164.4,1238.3 L1166.9,1238.8 L1169.4,1238.2 L1171.9,1238.3 L1174.5,1238.4 L1177.0,1238.3 L1179.5,1238.4 L1182.0,1238.2 L1184.5,1237.9 L1187.0,1237.8 L1189.5,1238.2 L1192.1,1238.8 L1194.6,1238.5 L1197.1,1238.4 L1199.6,1238.3 L1202.1,1238.4 L1204.6,1238.4 L1207.2,1238.0 L1209.7,1238.2 L1212.2,1238.3 L1214.7,1238.7 L1217.2,1238.2 L1219.7,1238.7 L1222.2,1238.5 L1224.8,1239.1 L1227.3,1238.4 L1229.8,1238.5 L1232.3,1238.8 L1234.8,1238.7 L1237.3,1238.6 L1239.9,1238.3 L1242.4,1238.8 L1244.9,1238.8 L1247.4,1238.4 L1249.9,1238.3 L1252.4,1238.3 L1254.9,1238.7 L1257.5,1238.5 L1260.0,1238.4 L1262.5,1238.3 L1265.0,1238.9 L1267.5,1238.7 L1270.0,1238.6 L1272.6,1238.8 L1275.1,1238.3 L1277.6,1238.6 L1280.1,1238.3 L1282.6,1238.8 L1285.1,1238.5 L1287.6,1238.7 L1290.2,1238.4 L1292.7,1238.6 L1295.2,1238.7 L1297.7,1238.3 L1300.2,1238.5 L1302.7,1238.3 L1305.3,1238.7 L1307.8,1238.3 L1310.3,1238.4 L1312.8,1238.5 L1315.3,1238.7 L1317.8,1238.3 L1320.4,1238.5 L1322.9,1238.4 L1325.4,1238.3 L1327.9,1238.3 L1330.4,1238.5 L1332.9,1238.5 L1335.4,1238.2 L1338.0,1238.5 L1340.5,1238.2 L1343.0,1238.7 L1345.5,1239.0 L1348.0,1238.3 L1350.5,1238.5 L1353.1,1238.5 L1355.6,1238.7 L1358.1,1238.3 L1360.6,1238.0 L1363.1,1238.2 L1365.6,1238.6 L1368.1,1238.7 L1370.7,1238.8 L1373.2,1238.5 L1375.7,1238.6 L1378.2,1238.4 L1380.7,1238.9 L1383.2,1238.5 L1385.8,1238.4 L1388.3,1238.7 L1390.8,1238.9 L1393.3,1238.3 L1395.8,1238.2 L1398.3,1238.2 L1400.8,1238.3 L1403.4,1238.6 L1405.9,1238.6 L1408.4,1238.5 L1410.9,1238.7 L1413.4,1238.8 L1415.9,1238.4 L1418.5,1238.1 L1421.0,1238.0 L1423.5,1238.6 L1426.0,1238.4 L1428.5,1238.5 L1431.0,1238.7 L1433.5,1238.6 L1436.1,1238.2 L1438.6,1238.4 L1441.1,1238.6 L1443.6,1238.6 L1446.1,1238.8 L1448.6,1238.4 L1451.2,1238.2 L1453.7,1238.8 L1456.2,1238.2 L1458.7,1238.4 L1461.2,1238.6 L1463.7,1238.5 L1466.2,1239.2 L1468.8,1238.7 L1471.3,1238.7 L1473.8,1238.7 L1476.3,1239.2 L1478.8,1238.7 L1481.3,1238.5 L1483.9,1238.8 L1486.4,1238.2 L1488.9,1238.5 L1491.4,1238.7 L1493.9,1238.6 L1496.4,1238.5 L1499.0,1239.1 L1501.5,1238.9 L1504.0,1238.4 L1506.5,1238.7 L1509.0,1238.5 L1511.5,1238.6 L1514.0,1238.9 L1516.6,1238.7 L1519.1,1238.6 L1521.6,1238.6 L1524.1,1238.5 L1526.6,1238.9 L1529.1,1238.6 L1531.7,1238.9 L1534.2,1238.5 L1536.7,1238.6 L1539.2,1239.0 L1541.7,1238.7 L1544.2,1238.5 L1546.7,1238.6 L1549.3,1238.9 L1551.8,1239.2 L1554.3,1238.8 L1556.8,1238.5 L1559.3,1238.4 L1561.8,1238.5 L1564.4,1238.7 L1566.9,1238.7 L1569.4,1238.6 L1571.9,1238.9 L1574.4,1238.4 L1576.9,1238.6 L1579.4,1238.8 L1582.0,1238.8 L1584.5,1238.7 L1587.0,1238.8 L1589.5,1238.5 L1592.0,1239.2 L1594.5,1239.4 L1597.1,1239.2 L1599.6,1238.9 L1602.1,1239.2 L1604.6,1238.8 L1607.1,1239.0 L1609.6,1238.7 L1612.1,1238.8 L1614.7,1238.7 L1617.2,1238.3 L1619.7,1238.8 L1622.2,1239.0 L1624.7,1238.1 L1627.2,1238.9 L1629.8,1239.0 L1632.3,1238.8 L1634.8,1238.9 L1637.3,1239.1 L1639.8,1238.7 L1642.3,1238.2 L1644.9,1238.5 L1647.4,1238.7 L1649.9,1238.8 L1652.4,1238.6 L1654.9,1238.8 L1657.4,1239.0 L1659.9,1238.1 L1662.5,1239.1 L1665.0,1239.0 L1667.5,1238.9 L1670.0,1238.8 L1672.5,1238.8 L1675.0,1238.9 L1677.6,1238.8 L1680.1,1238.6 L1682.6,1238.9 L1685.1,1238.6 L1687.6,1238.7 L1690.1,1238.6 L1692.6,1238.5 L1695.2,1238.9 L1697.7,1238.7 L1700.2,1238.5 L1702.7,1238.7 L1705.2,1238.5 L1707.7,1239.2 L1710.3,1239.0 L1712.8,1239.2 L1715.3,1238.7 L1717.8,1238.9 L1720.3,1238.5" stroke="#808080" stroke-width="2.2"/>
</g>
<rect x="210.5" y="102.5" width="1509.3" height="1217.0" fill="none" stroke="#000" stroke-width="5"/>
<path d="M210.5,1319.5 V1343.0 M336.3,1319.5 V1331.0 M462.1,1319.5 V1343.0 M587.8,1319.5 V1331.0 M713.6,1319.5 V1343.0 M839.4,1319.5 V1331.0 M965.1,1319.5 V1343.0 M1090.9,1319.5 V1331.0 M1216.7,1319.5 V1343.0 M1342.5,1319.5 V1331.0 M1468.2,1319.5 V1343.0 M1594.0,1319.5 V1331.0 M1719.8,1319.5 V1343.0" stroke="#000" stroke-width="5" fill="none"/>
<text transform="translate(210.0,1401.3) scale(1,1.013)" font-family="'Liberation Sans', Arial, sans-serif" font-size="54.2" text-anchor="middle" fill="#000">500</text>
<text transform="translate(461.6,1401.3) scale(1,1.013)" font-family="'Liberation Sans', Arial, sans-serif" font-size="54.2" text-anchor="middle" fill="#000">550</text>
<text transform="translate(713.1,1401.3) scale(1,1.013)" font-family="'Liberation Sans', Arial, sans-serif" font-size="54.2" text-anchor="middle" fill="#000">600</text>
<text transform="translate(964.6,1401.3) scale(1,1.013)" font-family="'Liberation Sans', Arial, sans-serif" font-size="54.2" text-anchor="middle" fill="#000">650</text>
<text transform="translate(1216.2,1401.3) scale(1,1.013)" font-family="'Liberation Sans', Arial, sans-serif" font-size="54.2" text-anchor="middle" fill="#000">700</text>
<text transform="translate(1467.8,1401.3) scale(1,1.013)" font-family="'Liberation Sans', Arial, sans-serif" font-size="54.2" text-anchor="middle" fill="#000">750</text>
<text transform="translate(1719.3,1401.3) scale(1,1.013)" font-family="'Liberation Sans', Arial, sans-serif" font-size="54.2" text-anchor="middle" fill="#000">800</text>
<text transform="translate(964.25,1503.1) scale(1,1.02)" font-family="'Liberation Sans', Arial, sans-serif" font-weight="bold" font-size="63.5" text-anchor="middle" fill="#000">Wavelength (nm)</text>
<text transform="translate(158,710.4) rotate(-90) scale(1,1.02)" font-family="'Liberation Sans', Arial, sans-serif" font-weight="bold" font-size="63.2" text-anchor="middle" fill="#000">Intensity (a.u.)</text>
<text x="72" y="89.5" font-family="'Liberation Sans', Arial, sans-serif" font-weight="bold" font-size="74" fill="#000">(a)</text>
<line x1="1172" y1="160.0" x2="1307" y2="160.0" stroke="#FF0000" stroke-width="8.2" stroke-linecap="round"/>
<g transform="translate(0,180.90) scale(1,1.050)" font-family="'Liberation Sans', Arial, sans-serif" font-weight="bold" fill="#000">
<text y="0" font-size="59.2"><tspan x="1324.30">1.00</tspan><tspan x="1459.60" font-size="54.5" y="-1.14">×</tspan><tspan x="1509.50" y="0">10</tspan><tspan x="1575.10" font-size="41.5" y="-23.81">−2</tspan><tspan x="1640.80" y="0">M</tspan></text>
</g>
<line x1="1172" y1="242.8" x2="1307" y2="242.8" stroke="#37AE6B" stroke-width="8.2" stroke-linecap="round"/>
<g transform="translate(0,263.70) scale(1,1.050)" font-family="'Liberation Sans', Arial, sans-serif" font-weight="bold" fill="#000">
<text y="0" font-size="59.2"><tspan x="1324.30">4.26</tspan><tspan x="1459.60" font-size="54.5" y="-1.14">×</tspan><tspan x="1509.50" y="0">10</tspan><tspan x="1575.10" font-size="41.5" y="-23.81">−3</tspan><tspan x="1640.80" y="0">M</tspan></text>
</g>
<line x1="1172" y1="325.6" x2="1307" y2="325.6" stroke="#B079DF" stroke-width="8.2" stroke-linecap="round"/>
<g transform="translate(0,346.50) scale(1,1.050)" font-family="'Liberation Sans', Arial, sans-serif" font-weight="bold" fill="#000">
<text y="0" font-size="59.2"><tspan x="1324.30">2.84</tspan><tspan x="1459.60" font-size="54.5" y="-1.14">×</tspan><tspan x="1509.50" y="0">10</tspan><tspan x="1575.10" font-size="41.5" y="-23.81">−3</tspan><tspan x="1640.80" y="0">M</tspan></text>
</g>
<line x1="1172" y1="408.4" x2="1307" y2="408.4" stroke="#CC9900" stroke-width="8.2" stroke-linecap="round"/>
<g transform="translate(0,429.30) scale(1,1.050)" font-family="'Liberation Sans', Arial, sans-serif" font-weight="bold" fill="#000">
<text y="0" font-size="59.2"><tspan x="1324.30">1.42</tspan><tspan x="1459.60" font-size="54.5" y="-1.14">×</tspan><tspan x="1509.50" y="0">10</tspan><tspan x="1575.10" font-size="41.5" y="-23.81">−3</tspan><tspan x="1640.80" y="0">M</tspan></text>
</g>
<line x1="1172" y1="491.2" x2="1307" y2="491.2" stroke="#00CCCC" stroke-width="8.2" stroke-linecap="round"/>
<g transform="translate(0,512.10) scale(1,1.050)" font-family="'Liberation Sans', Arial, sans-serif" font-weight="bold" fill="#000">
<text y="0" font-size="59.2"><tspan x="1324.30">7.10</tspan><tspan x="1459.60" font-size="54.5" y="-1.14">×</tspan><tspan x="1509.50" y="0">10</tspan><tspan x="1575.10" font-size="41.5" y="-23.81">−4</tspan><tspan x="1640.80" y="0">M</tspan></text>
</g>
<line x1="1172" y1="574.0" x2="1307" y2="574.0" stroke="#7C4F4F" stroke-width="8.2" stroke-linecap="round"/>
<g transform="translate(0,594.90) scale(1,1.050)" font-family="'Liberation Sans', Arial, sans-serif" font-weight="bold" fill="#000">
<text y="0" font-size="59.2"><tspan x="1324.30">3.55</tspan><tspan x="1459.60" font-size="54.5" y="-1.14">×</tspan><tspan x="1509.50" y="0">10</tspan><tspan x="1575.10" font-size="41.5" y="-23.81">−4</tspan><tspan x="1640.80" y="0">M</tspan></text>
</g>
<line x1="1171" y1="651" x2="1308" y2="651" stroke="#808080" stroke-width="2.2"/>
<g transform="translate(0,671.1) scale(1,1.050)" font-family="'Liberation Sans', Arial, sans-serif" font-weight="bold" font-size="59.2" fill="#000"><text y="0" letter-spacing="0.72"><tspan x="1323.90">Eu</tspan><tspan x="1399.20" font-family="'DejaVu Sans', sans-serif" font-size="60.86" y="2.29">@</tspan><tspan x="1460.60" y="0">Cu</tspan><tspan y="1.90">-</tspan><tspan y="0">MOF</tspan></text></g>
<rect x="1326.53" y="173.16" width="11.54" height="9.74" fill="#fff"/>
<rect x="1346.29" y="173.16" width="10.79" height="9.74" fill="#fff"/>
<rect x="1511.73" y="173.16" width="11.54" height="9.74" fill="#fff"/>
<rect x="1531.49" y="173.16" width="10.79" height="9.74" fill="#fff"/>
<rect x="1511.73" y="255.96" width="11.54" height="9.74" fill="#fff"/>
<rect x="1531.49" y="255.96" width="10.79" height="9.74" fill="#fff"/>
<rect x="1511.73" y="338.76" width="11.54" height="9.74" fill="#fff"/>
<rect x="1531.49" y="338.76" width="10.79" height="9.74" fill="#fff"/>
<rect x="1326.53" y="421.56" width="11.54" height="9.74" fill="#fff"/>
<rect x="1346.29" y="421.56" width="10.79" height="9.74" fill="#fff"/>
<rect x="1511.73" y="421.56" width="11.54" height="9.74" fill="#fff"/>
<rect x="1531.49" y="421.56" width="10.79" height="9.74" fill="#fff"/>
<rect x="1375.90" y="504.36" width="11.54" height="9.74" fill="#fff"/>
<rect x="1395.66" y="504.36" width="10.79" height="9.74" fill="#fff"/>
<rect x="1511.73" y="504.36" width="11.54" height="9.74" fill="#fff"/>
<rect x="1531.49" y="504.36" width="10.79" height="9.74" fill="#fff"/>
<rect x="1511.73" y="587.16" width="11.54" height="9.74" fill="#fff"/>
<rect x="1531.49" y="587.16" width="10.79" height="9.74" fill="#fff"/>
</svg>
</body></html>
